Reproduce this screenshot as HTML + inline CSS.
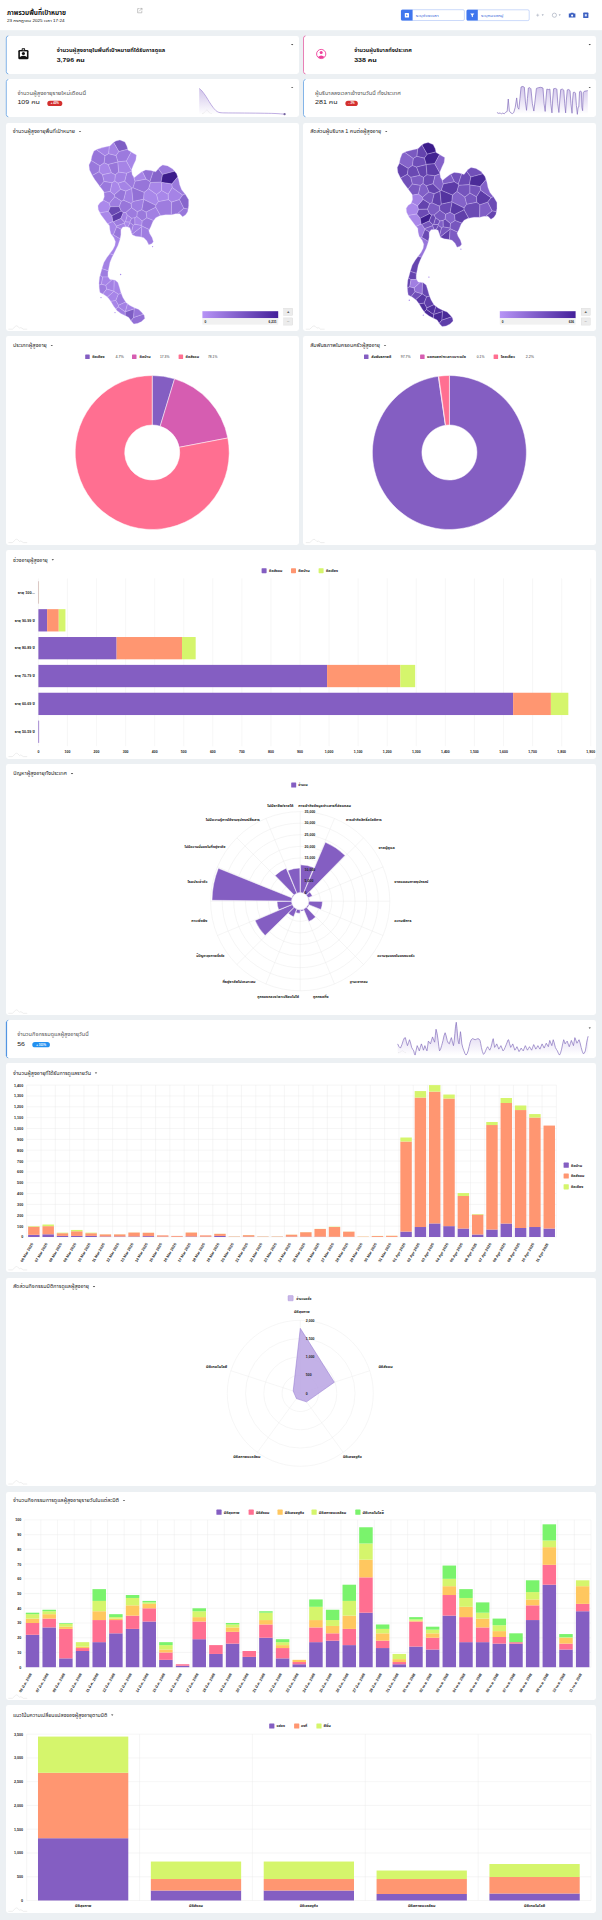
<!DOCTYPE html>
<html lang="th"><head><meta charset="utf-8"><title>ภาพรวมพื้นที่เป้าหมาย</title>
<style>html,body{margin:0;padding:0;}body{width:602px;height:1920px;background:#ecf0f3;position:relative;overflow:hidden;font-family:"Liberation Sans", "Noto Sans Thai", "Loma", sans-serif;}.card{position:absolute;background:#fff;border-radius:2.4px;}svg.ov{position:absolute;left:0;top:0;font-family:"Liberation Sans", "Noto Sans Thai", "Loma", sans-serif;}svg.ov text{white-space:pre;}</style></head><body>
<div class="card" style="left:6px;top:35.6px;width:292.6px;height:38.6px;"></div>
<div class="card" style="left:303.2px;top:35.6px;width:292.6px;height:38.6px;"></div>
<div class="card" style="left:6px;top:79.2px;width:292.6px;height:37.9px;"></div>
<div class="card" style="left:303.2px;top:79.2px;width:292.6px;height:37.9px;"></div>
<div class="card" style="left:6px;top:1020px;width:589.8px;height:38.2px;"></div>
<div class="card" style="left:6px;top:122.7px;width:292.6px;height:208.5px;"></div>
<div class="card" style="left:303.2px;top:122.7px;width:292.6px;height:208.5px;"></div>
<div class="card" style="left:6px;top:335.6px;width:292.6px;height:209px;"></div>
<div class="card" style="left:303.2px;top:335.6px;width:292.6px;height:209px;"></div>
<div class="card" style="left:6px;top:550px;width:589.8px;height:208.6px;"></div>
<div class="card" style="left:6px;top:763.8px;width:589.8px;height:251.5px;"></div>
<div class="card" style="left:6px;top:1063.2px;width:589.8px;height:208.7px;"></div>
<div class="card" style="left:6px;top:1277.6px;width:589.8px;height:208.4px;"></div>
<div class="card" style="left:6px;top:1491.6px;width:589.8px;height:208.7px;"></div>
<div class="card" style="left:6px;top:1705.3px;width:589.8px;height:208px;"></div>
<svg class="ov" width="602" height="1920" viewBox="0 0 602 1920">
<rect x="0" y="0" width="602" height="30.2" fill="#ffffff"/>
<text x="6.9" y="14.5" font-size="6.3" fill="#111" font-weight="bold" textLength="59.1" lengthAdjust="spacingAndGlyphs">ภาพรวมพื้นที่เป้าหมาย</text>
<text x="6.9" y="21.9" font-size="4" fill="#111" textLength="57.6" lengthAdjust="spacingAndGlyphs">23 กรกฎาคม 2025 เวลา 17:24</text>
<g fill="none" stroke="#888" stroke-width="0.45"><path d="M139.6 8.6 h-2 v4.2 h4.2 v-2"/><path d="M139 11.4 l3 -3 m-1.8 0 h1.8 v1.8"/></g>
<rect x="401.2" y="9.7" width="63.2" height="10.8" rx="1.4" fill="#fff" stroke="#7fa2f3" stroke-width="0.4"/>
<path d="M402.4 9.8 h10.2 v10.8 h-10.2 a1.4 1.4 0 0 1 -1.4 -1.4 v-8 a1.4 1.4 0 0 1 1.4 -1.4z" fill="#3f76ee"/>
<rect x="404.8" y="13" width="4.2" height="4.4" rx="0.5" fill="#fff"/><path d="M406.2 14.3 l1.6 1 l-1.6 1z" fill="#3f76ee"/>
<text x="415.8" y="16.7" font-size="3.9" fill="#2d5bd6" textLength="22.8" lengthAdjust="spacingAndGlyphs">ระบุช่วงเวลา</text>
<rect x="466.6" y="9.8" width="62.6" height="10.8" rx="1.4" fill="#fff" stroke="#7fa2f3" stroke-width="0.4"/>
<path d="M468 9.8 h9.8 v10.8 h-9.8 a1.4 1.4 0 0 1 -1.4 -1.4 v-8 a1.4 1.4 0 0 1 1.4 -1.4z" fill="#3f76ee"/>
<path d="M470.2 13.4 h4.2 l-1.5 1.9 v2 l-1.2 -0.7 v-1.3z" fill="#fff"/>
<text x="481" y="16.7" font-size="3.9" fill="#2d5bd6" textLength="22.4" lengthAdjust="spacingAndGlyphs">ระบุหมวดหมู่</text>
<path d="M536.2 15.2 h3 m-1.5 -1.5 v3" stroke="#9aa3b5" stroke-width="0.5" fill="none"/>
<path d="M541.6 14.6 h2.2 l-1.1 1.1 z" fill="#8a93a8"/>
<circle cx="554.4" cy="15.2" r="2.1" fill="none" stroke="#9aa3b5" stroke-width="0.6"/>
<path d="M558.6 14.6 h2.2 l-1.1 1.1 z" fill="#8a93a8"/>
<path d="M568.8 13.6 h1.5 l0.6 -0.8 h2.4 l0.6 0.8 h1.5 v4 h-6.6z" fill="#3b5fc0"/><circle cx="572.1" cy="15.6" r="1.05" fill="#fff"/>
<rect x="583.2" y="12.6" width="5.2" height="5.4" rx="0.6" fill="#3b5fc0"/><rect x="584.8" y="14.2" width="2" height="2.2" fill="#dfe6fa"/>
<defs><linearGradient id="g1" x1="0" y1="0" x2="0" y2="1"><stop offset="0" stop-color="#a48bd6" stop-opacity="0.5"/><stop offset="1" stop-color="#a48bd6" stop-opacity="0.0"/></linearGradient></defs>
<path d="M8.3 35.9 q-1.9 0.2 -2 2.2 V71.7 q0.1 2 2 2.2" fill="none" stroke="#5a9be0" stroke-width="0.75"/>
<path d="M305.5 35.9 q-1.9 0.2 -2 2.2 V71.7 q0.1 2 2 2.2" fill="none" stroke="#e0569d" stroke-width="0.75"/>
<g><rect x="18.3" y="49.9" width="10.2" height="9.4" rx="1.3" fill="#111"/><rect x="21.7" y="48.3" width="3.4" height="3" rx="0.6" fill="#111"/><rect x="19.9" y="51.4" width="7" height="5.6" fill="#fff"/><circle cx="23.4" cy="53.5" r="1.6" fill="#111"/><path d="M19.9 57 q3.5 -2.6 7 0 v0.1 h-7z" fill="#111"/><rect x="22.6" y="49.3" width="1.6" height="0.9" fill="#fff"/></g>
<text x="56.8" y="51.9" font-size="4.9" fill="#111" font-weight="bold" textLength="108.4" lengthAdjust="spacingAndGlyphs">จำนวนผู้สูงอายุในพื้นที่เป้าหมายที่ได้รับการดูแล</text>
<text x="56.8" y="61.6" font-size="6" fill="#111" font-weight="bold" textLength="28" lengthAdjust="spacingAndGlyphs">3,796 คน</text>
<path d="M291 44 h2.3 l-1.15 1.15 z" fill="#333"/>
<circle cx="321.2" cy="54" r="4.6" fill="#fff" stroke="#ee3f9b" stroke-width="0.9"/><circle cx="321.2" cy="52.5" r="1.5" fill="#ee3f9b"/><path d="M317.9 56.9 q3.3 -3 6.6 0 a4.6 4.6 0 0 1 -6.6 0z" fill="#ee3f9b"/>
<text x="354.2" y="51.9" font-size="4.9" fill="#111" font-weight="bold" textLength="57.6" lengthAdjust="spacingAndGlyphs">จำนวนผู้บริบาลทั้งประเทศ</text>
<text x="354.2" y="61.6" font-size="6" fill="#111" font-weight="bold" textLength="22.6" lengthAdjust="spacingAndGlyphs">338 คน</text>
<path d="M588.6 44 h2.3 l-1.15 1.15 z" fill="#333"/>
<path d="M8.3 79.5 q-1.9 0.2 -2 2.2 V114.6 q0.1 2 2 2.2" fill="none" stroke="#5a9be0" stroke-width="0.75"/>
<path d="M305.5 79.5 q-1.9 0.2 -2 2.2 V114.6 q0.1 2 2 2.2" fill="none" stroke="#5a9be0" stroke-width="0.75"/>
<text x="17.4" y="94.8" font-size="4.7" fill="#555" textLength="68.6" lengthAdjust="spacingAndGlyphs">จำนวนผู้สูงอายุรายใหม่เดือนนี้</text>
<text x="17.4" y="104.3" font-size="6" fill="#222" textLength="22.5" lengthAdjust="spacingAndGlyphs">109 คน</text>
<rect x="47.3" y="100.8" width="15" height="5.2" rx="2.6" fill="#d3302f"/><text x="54.8" y="104.4" font-size="2.9" fill="#fff" text-anchor="middle" font-weight="bold">+ 43%</text>
<path d="M291 86.9 h2.3 l-1.15 1.15 z" fill="#333"/>
<path d="M199.2 88.4 L199.67 88.8 L200.35 89.36 L201.15 90.09 L202 91 L202.92 92.15 L203.93 93.51 L204.97 94.99 L206 96.5 L207 98.08 L208 99.74 L209 101.41 L210 103 L211.02 104.53 L212.06 106.03 L213.07 107.42 L214 108.6 L214.82 109.53 L215.56 110.27 L216.27 110.88 L217 111.4 L217.68 111.83 L218.31 112.16 L219.04 112.4 L220 112.6 L221.1 112.74 L222.31 112.82 L223.87 112.86 L226 112.9 L228.8 112.94 L232.12 112.96 L235.89 112.97 L240 113 L244.7 113.04 L249.94 113.09 L255.21 113.14 L260 113.2 L264.23 113.26 L268.15 113.32 L271.75 113.39 L275 113.5 L278 113.66 L280.74 113.87 L283 114.06 L284.6 114.2 L284.6 114.4 L199.2 114.4 Z" fill="url(#g1)"/><path d="M199.2 88.4 L199.67 88.8 L200.35 89.36 L201.15 90.09 L202 91 L202.92 92.15 L203.93 93.51 L204.97 94.99 L206 96.5 L207 98.08 L208 99.74 L209 101.41 L210 103 L211.02 104.53 L212.06 106.03 L213.07 107.42 L214 108.6 L214.82 109.53 L215.56 110.27 L216.27 110.88 L217 111.4 L217.68 111.83 L218.31 112.16 L219.04 112.4 L220 112.6 L221.1 112.74 L222.31 112.82 L223.87 112.86 L226 112.9 L228.8 112.94 L232.12 112.96 L235.89 112.97 L240 113 L244.7 113.04 L249.94 113.09 L255.21 113.14 L260 113.2 L264.23 113.26 L268.15 113.32 L271.75 113.39 L275 113.5 L278 113.66 L280.74 113.87 L283 114.06 L284.6 114.2" fill="none" stroke="#a48bd6" stroke-width="0.7" stroke-linejoin="round"/>
<path d="M202 113.6 q2 0 3.4 -2.4 q1.4 -2.4 2.8 0 q1.4 2.4 3.4 2.4" fill="none" stroke="#c9c9c9" stroke-width="0.35" stroke-dasharray="0.8 0.5"/>
<circle cx="284.6" cy="114.2" r="1.1" fill="#75659f"/>
<text x="315" y="94.8" font-size="4.7" fill="#555" textLength="85.7" lengthAdjust="spacingAndGlyphs">ผู้บริบาลลงเวลาเข้างานวันนี้ ทั้งประเทศ</text>
<text x="315" y="104.3" font-size="6" fill="#222" textLength="22.5" lengthAdjust="spacingAndGlyphs">281 คน</text>
<rect x="345.4" y="100.8" width="12.4" height="5.2" rx="2.6" fill="#d3302f"/><text x="351.6" y="104.4" font-size="2.9" fill="#fff" text-anchor="middle" font-weight="bold">- 2%</text>
<path d="M588.6 86.9 h2.3 l-1.15 1.15 z" fill="#333"/>
<path d="M496.94 112.52 L498.77 113.44 L500.23 112.89 L501.33 113.99 L502.79 113.07 L504.25 113.8 L505.71 112.16 L507.18 111.43 L508.27 99 L509.37 111.06 L510.83 112.89 L512.29 113.62 L513.75 112.52 L515.21 107.41 L516.68 97.91 L517.77 107.41 L518.87 109.23 L519.97 98.27 L521.06 86.94 L522.89 86.4 L524.35 87.31 L525.45 101.93 L526.54 110.33 L527.46 98.27 L528.37 88.04 L529.83 87.67 L530.93 88.77 L532.39 103.75 L533.85 111.06 L535.13 100.1 L536.41 88.4 L538.42 87.67 L540.79 87.31 L542.99 88.04 L544.08 103.75 L545.18 111.43 L545.91 100.1 L546.82 89.14 L548.47 89.5 L549.93 89.14 L550.84 103.75 L551.94 112.89 L552.67 100.1 L553.58 88.77 L555.41 88.4 L556.87 89.14 L557.79 103.75 L558.88 112.52 L559.8 100.1 L560.71 89.5 L562.54 89.14 L563.82 90.23 L564.73 103.75 L565.64 112.89 L566.37 100.1 L567.29 89.87 L568.75 89.5 L570.03 90.6 L570.94 103.75 L572.04 113.25 L572.59 100.1 L573.32 92.42 L574.41 92.06 L575.51 93.16 L576.42 105.58 L577.34 114.35 L578.07 107.41 L578.8 107.04 L579.53 91.69 L580.63 90.96 L581.36 92.06 L581.91 107.41 L582.64 110.7 L583.18 92.79 L584.28 91.33 L586.11 90.96 L587.75 90.6 L587.75 113.6 L496.94 113.6 Z" fill="url(#g1)"/><path d="M496.94 112.52 L498.77 113.44 L500.23 112.89 L501.33 113.99 L502.79 113.07 L504.25 113.8 L505.71 112.16 L507.18 111.43 L508.27 99 L509.37 111.06 L510.83 112.89 L512.29 113.62 L513.75 112.52 L515.21 107.41 L516.68 97.91 L517.77 107.41 L518.87 109.23 L519.97 98.27 L521.06 86.94 L522.89 86.4 L524.35 87.31 L525.45 101.93 L526.54 110.33 L527.46 98.27 L528.37 88.04 L529.83 87.67 L530.93 88.77 L532.39 103.75 L533.85 111.06 L535.13 100.1 L536.41 88.4 L538.42 87.67 L540.79 87.31 L542.99 88.04 L544.08 103.75 L545.18 111.43 L545.91 100.1 L546.82 89.14 L548.47 89.5 L549.93 89.14 L550.84 103.75 L551.94 112.89 L552.67 100.1 L553.58 88.77 L555.41 88.4 L556.87 89.14 L557.79 103.75 L558.88 112.52 L559.8 100.1 L560.71 89.5 L562.54 89.14 L563.82 90.23 L564.73 103.75 L565.64 112.89 L566.37 100.1 L567.29 89.87 L568.75 89.5 L570.03 90.6 L570.94 103.75 L572.04 113.25 L572.59 100.1 L573.32 92.42 L574.41 92.06 L575.51 93.16 L576.42 105.58 L577.34 114.35 L578.07 107.41 L578.8 107.04 L579.53 91.69 L580.63 90.96 L581.36 92.06 L581.91 107.41 L582.64 110.7 L583.18 92.79 L584.28 91.33 L586.11 90.96 L587.75 90.6" fill="none" stroke="#8570bd" stroke-width="0.7" stroke-linejoin="round"/>
<path d="M8.3 1020.3 q-1.9 0.2 -2 2.2 V1055.7 q0.1 2 2 2.2" fill="none" stroke="#5a9be0" stroke-width="0.75"/>
<path d="M6.6 1022 V1056.2" stroke="#4a90e2" stroke-width="1"/>
<text x="17.2" y="1036.2" font-size="4.7" fill="#555" textLength="71.5" lengthAdjust="spacingAndGlyphs">จำนวนกิจกรรมดูแลผู้สูงอายุวันนี้</text>
<text x="17.2" y="1046.2" font-size="6" fill="#222" textLength="7.8" lengthAdjust="spacingAndGlyphs">56</text>
<rect x="32.3" y="1042" width="17.6" height="5.3" rx="2.65" fill="#2391f0"/><text x="41.1" y="1045.65" font-size="2.9" fill="#fff" text-anchor="middle" font-weight="bold">+ 103%</text>
<path d="M588.6 1027.6 h2.3 l-1.15 1.15 z" fill="#333"/>
<path d="M397.67 1043.9 L398.89 1046.48 L400.46 1048.09 L401.9 1044.69 L403.25 1040.42 L404.34 1038.04 L405.35 1037.63 L406.39 1041.83 L407.44 1045.65 L408.49 1042.7 L409.53 1039.72 L410.58 1042.97 L411.63 1047.39 L412.72 1049.35 L413.72 1050.88 L414.42 1053.78 L415.11 1055.07 L416.12 1050.29 L417.21 1045.65 L418.25 1048.11 L419.3 1050.88 L420.35 1047.33 L421.39 1043.9 L422.48 1046.89 L423.48 1050.18 L424.18 1047.98 L424.88 1045.65 L425.93 1048.59 L426.97 1050.88 L427.67 1046.15 L428.37 1041.11 L429.37 1042.33 L430.46 1043.9 L431.51 1040.26 L432.55 1036.93 L433.64 1039.91 L434.65 1042.16 L435.34 1035.34 L436.04 1029.25 L437.09 1033.37 L438.13 1040.42 L438.83 1046.67 L439.53 1050.88 L440.58 1049.24 L441.62 1045.65 L442.32 1043.18 L443.02 1040.42 L444.02 1035.77 L445.11 1032.74 L446.16 1035.88 L447.2 1040.42 L448.25 1043.03 L449.3 1043.9 L450.34 1040.48 L451.39 1037.63 L452.48 1042.01 L453.48 1045.65 L454.22 1040.74 L454.88 1033.44 L455.57 1026.18 L456.27 1022.28 L456.97 1028.47 L457.67 1036.93 L458.36 1042.09 L459.06 1043.9 L459.76 1037.47 L460.46 1031.7 L461.11 1036.6 L461.85 1043.9 L462.85 1047.89 L463.94 1050.88 L464.99 1053.67 L466.04 1055.07 L467.08 1053.78 L468.13 1050.88 L469.18 1046.48 L470.22 1042.16 L471.23 1039.81 L472.32 1038.67 L473.67 1039.04 L475.11 1039.72 L476.55 1039.15 L477.9 1038.67 L479.03 1039.04 L479.99 1040.42 L480.69 1043.58 L481.38 1047.39 L482.39 1051.53 L483.48 1054.37 L484.52 1053.32 L485.57 1050.88 L486.62 1048.35 L487.66 1046.69 L488.71 1048.57 L489.76 1050.18 L490.85 1047.59 L491.85 1043.9 L492.59 1040.35 L493.24 1038.67 L493.9 1042.92 L494.64 1047.39 L495.64 1045.87 L496.73 1043.9 L497.78 1046.52 L498.82 1049.14 L499.87 1047.39 L500.92 1045.65 L501.96 1048.26 L503.01 1050.88 L504.06 1049.79 L505.1 1047.39 L506.19 1044.71 L507.2 1042.16 L507.89 1040.13 L508.59 1039.72 L509.59 1043.62 L510.68 1047.39 L511.73 1045.73 L512.78 1043.9 L513.82 1047.04 L514.87 1050.18 L515.92 1048.53 L516.96 1046.69 L518.01 1049.14 L519.05 1051.58 L520.1 1049.96 L521.15 1048.09 L522.19 1049.59 L523.24 1050.88 L524.29 1048.15 L525.33 1045.65 L526.38 1047.81 L527.43 1050.18 L528.47 1048.5 L529.52 1046.69 L530.57 1048.57 L531.61 1050.18 L532.66 1047.33 L533.7 1044.6 L534.75 1046.74 L535.8 1049.14 L536.84 1047.46 L537.89 1045.65 L538.94 1047.5 L539.98 1049.14 L541.03 1046.48 L542.08 1043.9 L543.12 1045.97 L544.17 1048.09 L545.21 1045.69 L546.26 1043.21 L547.35 1045.04 L548.35 1046.69 L549.05 1043.45 L549.75 1040.42 L550.8 1043.01 L551.84 1045.65 L552.54 1042.53 L553.24 1039.72 L554.24 1042.97 L555.33 1047.39 L556.38 1049.35 L557.42 1050.88 L558.47 1053.56 L559.52 1055.07 L560.56 1052.95 L561.61 1049.14 L562.7 1043.79 L563.7 1039.72 L564.4 1041.4 L565.1 1043.9 L566.1 1042.42 L567.19 1041.11 L568.24 1044.12 L569.28 1046.69 L570.33 1043.58 L571.37 1040.42 L572.46 1043.14 L573.47 1045.65 L574.16 1041.61 L574.86 1037.63 L575.87 1040.13 L576.96 1043.21 L578 1041.33 L579.05 1039.72 L580.09 1042.94 L581.14 1047.39 L582.19 1051.18 L583.23 1053.67 L584.32 1053.21 L585.33 1050.88 L586.07 1046.72 L586.72 1042.16 L587.51 1038.65 L588.12 1036.23 L588.12 1055.2 L397.67 1055.2 Z" fill="url(#g1)"/><path d="M397.67 1043.9 L398.89 1046.48 L400.46 1048.09 L401.9 1044.69 L403.25 1040.42 L404.34 1038.04 L405.35 1037.63 L406.39 1041.83 L407.44 1045.65 L408.49 1042.7 L409.53 1039.72 L410.58 1042.97 L411.63 1047.39 L412.72 1049.35 L413.72 1050.88 L414.42 1053.78 L415.11 1055.07 L416.12 1050.29 L417.21 1045.65 L418.25 1048.11 L419.3 1050.88 L420.35 1047.33 L421.39 1043.9 L422.48 1046.89 L423.48 1050.18 L424.18 1047.98 L424.88 1045.65 L425.93 1048.59 L426.97 1050.88 L427.67 1046.15 L428.37 1041.11 L429.37 1042.33 L430.46 1043.9 L431.51 1040.26 L432.55 1036.93 L433.64 1039.91 L434.65 1042.16 L435.34 1035.34 L436.04 1029.25 L437.09 1033.37 L438.13 1040.42 L438.83 1046.67 L439.53 1050.88 L440.58 1049.24 L441.62 1045.65 L442.32 1043.18 L443.02 1040.42 L444.02 1035.77 L445.11 1032.74 L446.16 1035.88 L447.2 1040.42 L448.25 1043.03 L449.3 1043.9 L450.34 1040.48 L451.39 1037.63 L452.48 1042.01 L453.48 1045.65 L454.22 1040.74 L454.88 1033.44 L455.57 1026.18 L456.27 1022.28 L456.97 1028.47 L457.67 1036.93 L458.36 1042.09 L459.06 1043.9 L459.76 1037.47 L460.46 1031.7 L461.11 1036.6 L461.85 1043.9 L462.85 1047.89 L463.94 1050.88 L464.99 1053.67 L466.04 1055.07 L467.08 1053.78 L468.13 1050.88 L469.18 1046.48 L470.22 1042.16 L471.23 1039.81 L472.32 1038.67 L473.67 1039.04 L475.11 1039.72 L476.55 1039.15 L477.9 1038.67 L479.03 1039.04 L479.99 1040.42 L480.69 1043.58 L481.38 1047.39 L482.39 1051.53 L483.48 1054.37 L484.52 1053.32 L485.57 1050.88 L486.62 1048.35 L487.66 1046.69 L488.71 1048.57 L489.76 1050.18 L490.85 1047.59 L491.85 1043.9 L492.59 1040.35 L493.24 1038.67 L493.9 1042.92 L494.64 1047.39 L495.64 1045.87 L496.73 1043.9 L497.78 1046.52 L498.82 1049.14 L499.87 1047.39 L500.92 1045.65 L501.96 1048.26 L503.01 1050.88 L504.06 1049.79 L505.1 1047.39 L506.19 1044.71 L507.2 1042.16 L507.89 1040.13 L508.59 1039.72 L509.59 1043.62 L510.68 1047.39 L511.73 1045.73 L512.78 1043.9 L513.82 1047.04 L514.87 1050.18 L515.92 1048.53 L516.96 1046.69 L518.01 1049.14 L519.05 1051.58 L520.1 1049.96 L521.15 1048.09 L522.19 1049.59 L523.24 1050.88 L524.29 1048.15 L525.33 1045.65 L526.38 1047.81 L527.43 1050.18 L528.47 1048.5 L529.52 1046.69 L530.57 1048.57 L531.61 1050.18 L532.66 1047.33 L533.7 1044.6 L534.75 1046.74 L535.8 1049.14 L536.84 1047.46 L537.89 1045.65 L538.94 1047.5 L539.98 1049.14 L541.03 1046.48 L542.08 1043.9 L543.12 1045.97 L544.17 1048.09 L545.21 1045.69 L546.26 1043.21 L547.35 1045.04 L548.35 1046.69 L549.05 1043.45 L549.75 1040.42 L550.8 1043.01 L551.84 1045.65 L552.54 1042.53 L553.24 1039.72 L554.24 1042.97 L555.33 1047.39 L556.38 1049.35 L557.42 1050.88 L558.47 1053.56 L559.52 1055.07 L560.56 1052.95 L561.61 1049.14 L562.7 1043.79 L563.7 1039.72 L564.4 1041.4 L565.1 1043.9 L566.1 1042.42 L567.19 1041.11 L568.24 1044.12 L569.28 1046.69 L570.33 1043.58 L571.37 1040.42 L572.46 1043.14 L573.47 1045.65 L574.16 1041.61 L574.86 1037.63 L575.87 1040.13 L576.96 1043.21 L578 1041.33 L579.05 1039.72 L580.09 1042.94 L581.14 1047.39 L582.19 1051.18 L583.23 1053.67 L584.32 1053.21 L585.33 1050.88 L586.07 1046.72 L586.72 1042.16 L587.51 1038.65 L588.12 1036.23" fill="none" stroke="#8570bd" stroke-width="0.7" stroke-linejoin="round"/>
<path d="M398 1052.6 q2 0 3 -1.2 q1.2 -1.2 2.4 0 q1 1.2 3 1.2" fill="none" stroke="#c9c9c9" stroke-width="0.35" stroke-dasharray="0.8 0.5"/>
<text x="12.8" y="133.2" font-size="5" fill="#222" textLength="62.2" lengthAdjust="spacingAndGlyphs">จำนวนผู้สูงอายุพื้นที่เป้าหมาย</text>
<path d="M78.8 130.9 h2.4 l-1.2 1.2 z" fill="#333"/>
<text x="310.2" y="133.2" font-size="5" fill="#222" textLength="71" lengthAdjust="spacingAndGlyphs">สัดส่วนผู้บริบาล 1 คนต่อผู้สูงอายุ</text>
<path d="M385 130.9 h2.4 l-1.2 1.2 z" fill="#333"/>
<defs><linearGradient id="mg" x1="0" y1="0" x2="1" y2="0"><stop offset="0" stop-color="#b794f6"/><stop offset="1" stop-color="#44209a"/></linearGradient></defs>
<g transform="translate(0 0)" stroke="#dccdfb" stroke-width="0.3" stroke-linejoin="round"><polygon points="101.45,284.26 102.71,277.01 100.16,275.3 99.53,277.52 98.94,283.5 99.07,285.15 101.45,284.26" fill="#a07ee1"/><polygon points="99.11,171.76 99.95,165.74 91.07,160.37 90.96,160.91 88.97,164.9 89.57,169.88 91.96,174.86 92.3,175.43 99.11,171.76" fill="#9978dc"/><polygon points="108.51,211.41 110.32,206.78 109.31,203.17 103.2,199.98 102.92,200.78 99.93,202.77 97.94,205.76 98.34,209.75 99.95,212.84 108.51,211.41" fill="#ab89eb"/><polygon points="104.09,181.34 102.54,174.76 99.11,171.76 92.3,175.43 94.95,179.85 97.94,183.83 99.85,186.38 104.09,181.34" fill="#9775d9"/><polygon points="99.85,186.38 100.93,187.82 103.92,191.81 103.98,192.55 110.21,191.48 112.09,182.71 104.09,181.34 99.85,186.38" fill="#9a79dd"/><polygon points="99.95,165.74 104.17,162.83 105.05,155.8 96.43,149.71 93.95,150.95 91.96,155.93 91.07,160.37 99.95,165.74" fill="#9775da"/><polygon points="99.11,171.76 102.54,174.76 111.5,172.79 108.28,164.47 104.17,162.83 99.95,165.74 99.11,171.76" fill="#a886e8"/><polygon points="106.69,289.11 105.88,285.25 101.45,284.26 99.07,285.15 99.33,288.48 99.93,292.46 102.91,293.96 106.69,289.11" fill="#9e7cdf"/><polygon points="106.69,289.11 113.95,291.37 113.95,291.37 114.24,280.03 111.89,279.75 105.88,285.25 106.69,289.11" fill="#a482e4"/><polygon points="99.95,212.84 100.93,214.73 103.92,218.72 106.91,222.7 107.85,223.79 112.88,221.51 111.95,215.77 108.51,211.41 99.95,212.84" fill="#a987e9"/><polygon points="102.71,277.01 108.22,276.99 107.91,276.52 107.91,272.53 108.26,270.74 102.02,268.62 100.93,272.53 100.16,275.3 102.71,277.01" fill="#9e7de0"/><polygon points="108.26,270.74 108.9,267.55 109.9,262.57 111.89,257.58 113.34,254.69 109.83,253.68 106.91,257.58 103.92,262.57 102.32,267.55 102.02,268.62 108.26,270.74" fill="#a382e4"/><polygon points="101.45,284.26 105.88,285.25 111.89,279.75 109.9,279.51 108.22,276.99 102.71,277.01 101.45,284.26" fill="#a684e7"/><polygon points="118.86,151.61 127.68,149.32 126.84,145.96 124.85,141.98 119.86,139.98 115.88,140.98 113.61,142.49 118.86,151.61" fill="#7e5dc4"/><polygon points="105.05,155.8 108.66,153.64 109.41,146.08 103.92,147.36 97.94,148.95 96.43,149.71 105.05,155.8" fill="#a482e5"/><polygon points="110.32,206.78 119.27,206.57 121.43,200.99 114.77,196.65 109.31,203.17 110.32,206.78" fill="#9e7de0"/><polygon points="109.31,203.17 114.77,196.65 114.35,194.67 110.21,191.48 103.98,192.55 104.32,196.79 103.2,199.98 109.31,203.17" fill="#9e7cdf"/><polygon points="113.95,291.37 118.35,294.24 121.29,293.55 120.86,292.46 119.47,287.48 117.87,282.5 114.88,280.11 114.24,280.03 113.95,291.37" fill="#a684e7"/><polygon points="112.09,182.71 114.85,181 115.4,174.71 111.5,172.79 102.54,174.76 104.09,181.34 112.09,182.71" fill="#a382e4"/><polygon points="108.28,164.47 117.85,162.03 117.99,161.8 116.13,155.51 108.66,153.64 105.05,155.8 104.17,162.83 108.28,164.47" fill="#9776da"/><polygon points="113.95,291.37 106.69,289.11 102.91,293.96 103.92,294.46 107.41,297.08 113.95,291.37" fill="#a785e7"/><polygon points="118.37,306.94 118.58,305.28 115.89,300.38 110.76,301.25 110.89,301.43 113.88,306.42 115.91,309.11 118.37,306.94" fill="#a785e7"/><polygon points="113.95,291.37 107.41,297.08 107.91,297.45 110.76,301.25 115.89,300.38 118.35,294.24 113.95,291.37 113.95,291.37" fill="#a785e8"/><polygon points="110.21,191.48 114.35,194.67 120.61,189.3 118.14,183.15 114.85,181 112.09,182.71 110.21,191.48" fill="#a987e9"/><polygon points="113.46,234.76 116.6,226.91 116.36,226.02 113.41,221.81 112.88,221.51 107.85,223.79 109.5,225.69 109.9,229.68 110.89,233.66 111.99,235.13 113.46,234.76" fill="#a684e7"/><polygon points="115.4,174.71 118.72,172.04 117.85,162.03 108.28,164.47 111.5,172.79 115.4,174.71" fill="#9876da"/><polygon points="111.95,215.77 121.23,211.05 119.27,206.57 110.32,206.78 108.51,211.41 111.95,215.77" fill="#6948b2"/><polygon points="113.34,254.69 113.88,253.6 115.88,249.61 117.87,245.62 119.86,239.64 120.05,238.7 113.46,234.76 111.99,235.13 113.88,237.65 115.48,241.64 114.88,245.62 112.89,249.61 109.9,253.6 109.83,253.68 113.34,254.69" fill="#a684e7"/><polygon points="118.86,151.61 113.61,142.49 112.89,142.97 109.9,145.96 109.41,146.08 108.66,153.64 116.13,155.51 118.86,151.61" fill="#a583e5"/><polygon points="116.13,155.51 117.99,161.8 126.41,161.05 131.28,152.01 127.84,149.95 127.68,149.32 118.86,151.61 116.13,155.51" fill="#9c7ade"/><polygon points="118.58,305.28 125.63,302.08 122.85,297.45 121.29,293.55 118.35,294.24 115.89,300.38 118.58,305.28" fill="#9d7cdf"/><polygon points="113.41,221.81 120.93,218.43 123.33,212.46 121.23,211.05 111.95,215.77 112.88,221.51 113.41,221.81" fill="#5c3ba7"/><polygon points="121.23,211.05 123.33,212.46 125.89,212.51 131.53,207.6 131.19,203.49 123.72,200.2 121.43,200.99 119.27,206.57 121.23,211.05" fill="#9876da"/><polygon points="114.85,181 118.14,183.15 124.8,181.16 126.77,173.13 118.72,172.04 115.4,174.71 114.85,181" fill="#a381e4"/><polygon points="114.77,196.65 121.43,200.99 123.72,200.2 125.95,191.09 120.61,189.3 114.35,194.67 114.77,196.65" fill="#9675d9"/><polygon points="141.83,226.44 132.08,234.24 132.22,234.66 135.81,236.26 139.8,236.65 141.14,236.99 141.83,226.44" fill="#9e7de0"/><polygon points="133.25,225.25 130.11,222.56 127.76,226.99 129.83,227.68 130.83,230.67 131.45,232.45 133.25,225.25" fill="#9c7ade"/><polygon points="124.42,223 116.36,226.02 116.6,226.91 121.16,229.3 122.85,227.09 125.66,226.81 124.42,223" fill="#a583e5"/><polygon points="113.46,234.76 120.05,238.7 120.86,234.66 120.86,229.68 121.16,229.3 116.6,226.91 113.46,234.76" fill="#9775d9"/><polygon points="116.36,226.02 124.42,223 124.7,222.2 120.93,218.43 113.41,221.81 116.36,226.02" fill="#9b7add"/><polygon points="125.31,311.85 118.37,306.94 115.91,309.11 116.87,310.4 120.86,313.39 124.85,315.39 125.25,315.59 125.31,311.85" fill="#9e7de0"/><polygon points="125.39,311.77 127.58,303.73 125.84,302.43 125.63,302.08 118.58,305.28 118.37,306.94 125.31,311.85 125.39,311.77" fill="#a381e4"/><polygon points="125.31,311.85 125.25,315.59 128.83,317.38 130.99,320.69 133.64,317.43 134.25,308.87 125.39,311.77 125.31,311.85" fill="#7e5dc4"/><polygon points="124.7,222.2 125.46,221.77 127.35,215.15 125.89,212.51 123.33,212.46 120.93,218.43 124.7,222.2" fill="#a280e3"/><polygon points="125.95,191.09 131.72,188.53 132.02,188.19 124.8,181.16 118.14,183.15 120.61,189.3 125.95,191.09" fill="#a584e6"/><polygon points="117.85,162.03 118.72,172.04 126.77,173.13 131.64,171.24 131.47,170.18 126.41,161.05 117.99,161.8 117.85,162.03" fill="#a684e6"/><polygon points="126.41,161.05 131.47,170.18 131.43,169.88 133.42,164.9 135.81,159.92 136.41,154.93 132.82,152.94 131.28,152.01 126.41,161.05" fill="#a786e8"/><polygon points="125.39,311.77 134.25,308.87 134.83,308.02 134.81,308.01 129.83,305.42 127.58,303.73 125.39,311.77" fill="#a381e4"/><polygon points="127.35,215.15 131.69,218.37 134.87,217.82 136.91,216.41 137.36,211.65 131.53,207.6 125.89,212.51 127.35,215.15" fill="#9d7bdf"/><polygon points="124.42,223 125.66,226.81 126.84,226.69 127.76,226.99 130.11,222.56 129.87,222.01 125.46,221.77 124.7,222.2 124.42,223" fill="#a987e9"/><polygon points="124.8,181.16 132.02,188.19 133.04,187.72 135.07,181.29 133.73,177.12 132.22,174.86 131.64,171.24 126.77,173.13 124.8,181.16" fill="#9c7ade"/><polygon points="125.95,191.09 123.72,200.2 131.19,203.49 133.03,201.56 131.72,188.53 125.95,191.09" fill="#a280e3"/><polygon points="125.46,221.77 129.87,222.01 131.69,218.37 127.35,215.15 125.46,221.77" fill="#a381e4"/><polygon points="130.11,222.56 133.25,225.25 134.97,224.22 134.87,217.82 131.69,218.37 129.87,222.01 130.11,222.56" fill="#9977db"/><polygon points="133.03,201.56 143.61,199.21 144.19,192.37 133.04,187.72 132.02,188.19 131.72,188.53 133.03,201.56" fill="#9270d5"/><polygon points="131.19,203.49 131.53,207.6 137.36,211.65 141.88,209.74 143.78,199.5 143.61,199.21 133.03,201.56 131.19,203.49" fill="#9f7ee1"/><polygon points="131.45,232.45 132.08,234.24 141.83,226.44 142.08,226.11 141.82,225.39 134.97,224.22 133.25,225.25 131.45,232.45" fill="#a381e4"/><polygon points="133.64,317.43 130.99,320.69 131.43,321.37 133.82,323.96 137.8,323.36 141.79,321.37 144.78,318.38 144.18,315.39 143.22,314.19 133.64,317.43" fill="#9270d5"/><polygon points="142.08,226.11 141.83,226.44 141.14,236.99 143.78,237.65 146.77,240.64 148.77,244.63 151.76,243.63 153.35,241.64 152.15,237.65 149.76,233.66 148.77,230.67 149.34,229.52 142.08,226.11" fill="#9f7ee1"/><polygon points="162.52,174.45 174.57,171.24 172.68,168.88 167.7,165.89 162.72,164.9 159.73,166.89 158.3,168.68 162.52,174.45" fill="#9b7add"/><polygon points="146.07,179.2 149.97,181.58 153.42,171.23 150.76,170.48 145.78,169.88 142.35,171.59 146.07,179.2" fill="#9270d5"/><polygon points="135.07,181.29 146.07,179.2 142.35,171.59 141.79,171.87 137.8,174.86 134.22,177.85 133.73,177.12 135.07,181.29" fill="#a886e8"/><polygon points="134.25,308.87 133.64,317.43 143.22,314.19 141.79,312.4 138.8,309.41 134.83,308.02 134.25,308.87" fill="#9674d9"/><polygon points="133.04,187.72 144.19,192.37 148.67,188.8 150.48,182.53 149.97,181.58 146.07,179.2 135.07,181.29 133.04,187.72" fill="#9775d9"/><polygon points="134.97,224.22 141.82,225.39 142.21,220.96 136.91,216.41 134.87,217.82 134.97,224.22" fill="#a886e8"/><polygon points="142.21,220.96 146.9,217.82 146.13,212.04 141.88,209.74 137.36,211.65 136.91,216.41 142.21,220.96" fill="#9a79dc"/><polygon points="183.82,208.24 177.32,213.73 179.66,213.73 182.65,216.72 185.64,214.73 187.63,211.74 188.11,208.9 183.82,208.24" fill="#9877db"/><polygon points="143.78,199.5 155.79,205.28 158.43,201.56 156.59,194.43 148.67,188.8 144.19,192.37 143.61,199.21 143.78,199.5" fill="#a887e9"/><polygon points="142.21,220.96 141.82,225.39 142.08,226.11 149.34,229.52 150.76,226.69 152.75,221.71 153.65,220.51 146.9,217.82 142.21,220.96" fill="#9a78dc"/><polygon points="141.88,209.74 146.13,212.04 155.84,207.26 155.79,205.28 143.78,199.5 141.88,209.74" fill="#9270d5"/><polygon points="146.13,212.04 146.9,217.82 153.65,220.51 155.74,217.72 159.73,215.73 160.52,215.59 155.84,207.26 146.13,212.04" fill="#a280e3"/><polygon points="160.52,215.59 165.71,214.73 171.35,214.73 171.58,202.06 168.41,199.62 158.43,201.56 155.79,205.28 155.84,207.26 160.52,215.59" fill="#9e7cdf"/><polygon points="158.43,201.56 168.41,199.62 168.24,194.14 161.61,190.44 156.59,194.43 158.43,201.56" fill="#a887e9"/><polygon points="156.59,194.43 161.61,190.44 161.65,182.39 161.13,181.95 150.48,182.53 148.67,188.8 156.59,194.43" fill="#a886e8"/><polygon points="150.48,182.53 161.13,181.95 162.52,174.45 158.3,168.68 155.74,171.87 153.42,171.23 149.97,181.58 150.48,182.53" fill="#8564ca"/><polygon points="161.65,182.39 171.87,183.98 177.69,176.91 176.67,173.87 174.57,171.24 162.52,174.45 161.13,181.95 161.65,182.39" fill="#3c1c8b"/><polygon points="168.24,194.14 172.3,187.57 171.87,183.98 161.65,182.39 161.61,190.44 168.24,194.14" fill="#a583e6"/><polygon points="171.35,214.73 171.69,214.73 175.67,213.73 177.32,213.73 183.82,208.24 179.46,199.46 171.58,202.06 171.35,214.73" fill="#9675d9"/><polygon points="168.24,194.14 168.41,199.62 171.58,202.06 179.46,199.46 182.73,195.04 172.3,187.57 168.24,194.14" fill="#a583e6"/><polygon points="171.87,183.98 172.3,187.57 182.73,195.04 185.04,194.05 181.65,189.81 179.66,184.83 178.66,179.85 177.69,176.91 171.87,183.98" fill="#9a79dc"/><polygon points="182.73,195.04 179.46,199.46 183.82,208.24 188.11,208.9 188.63,205.76 188.63,199.78 185.64,194.8 185.04,194.05 182.73,195.04" fill="#8766cc"/><circle cx="120.6" cy="274.5" r="0.7" fill="#a98cec" stroke="none"/><circle cx="152.6" cy="246.6" r="0.6" fill="#a98cec" stroke="none"/><circle cx="101" cy="297.6" r="0.7" fill="#a98cec" stroke="none"/><circle cx="115" cy="312.6" r="0.6" fill="#a98cec" stroke="none"/></g>
<g transform="translate(308.3 2.6)" stroke="#dccdfb" stroke-width="0.3" stroke-linejoin="round"><polygon points="101.45,284.26 102.71,277.01 100.16,275.3 99.53,277.52 98.94,283.5 99.07,285.15 101.45,284.26" fill="#6444ae"/><polygon points="99.11,171.76 99.95,165.74 91.07,160.37 90.96,160.91 88.97,164.9 89.57,169.88 91.96,174.86 92.3,175.43 99.11,171.76" fill="#6342ad"/><polygon points="108.51,211.41 110.32,206.78 109.31,203.17 103.2,199.98 102.92,200.78 99.93,202.77 97.94,205.76 98.34,209.75 99.95,212.84 108.51,211.41" fill="#ab89eb"/><polygon points="104.09,181.34 102.54,174.76 99.11,171.76 92.3,175.43 94.95,179.85 97.94,183.83 99.85,186.38 104.09,181.34" fill="#7150b9"/><polygon points="99.85,186.38 100.93,187.82 103.92,191.81 103.98,192.55 110.21,191.48 112.09,182.71 104.09,181.34 99.85,186.38" fill="#7a59c1"/><polygon points="99.95,165.74 104.17,162.83 105.05,155.8 96.43,149.71 93.95,150.95 91.96,155.93 91.07,160.37 99.95,165.74" fill="#8564ca"/><polygon points="99.11,171.76 102.54,174.76 111.5,172.79 108.28,164.47 104.17,162.83 99.95,165.74 99.11,171.76" fill="#6a49b3"/><polygon points="106.69,289.11 105.88,285.25 101.45,284.26 99.07,285.15 99.33,288.48 99.93,292.46 102.91,293.96 106.69,289.11" fill="#7251b9"/><polygon points="106.69,289.11 113.95,291.37 113.95,291.37 114.24,280.03 111.89,279.75 105.88,285.25 106.69,289.11" fill="#9270d5"/><polygon points="99.95,212.84 100.93,214.73 103.92,218.72 106.91,222.7 107.85,223.79 112.88,221.51 111.95,215.77 108.51,211.41 99.95,212.84" fill="#a987e9"/><polygon points="102.71,277.01 108.22,276.99 107.91,276.52 107.91,272.53 108.26,270.74 102.02,268.62 100.93,272.53 100.16,275.3 102.71,277.01" fill="#6645af"/><polygon points="108.26,270.74 108.9,267.55 109.9,262.57 111.89,257.58 113.34,254.69 109.83,253.68 106.91,257.58 103.92,262.57 102.32,267.55 102.02,268.62 108.26,270.74" fill="#6645af"/><polygon points="101.45,284.26 105.88,285.25 111.89,279.75 109.9,279.51 108.22,276.99 102.71,277.01 101.45,284.26" fill="#a17fe2"/><polygon points="118.86,151.61 127.68,149.32 126.84,145.96 124.85,141.98 119.86,139.98 115.88,140.98 113.61,142.49 118.86,151.61" fill="#3b1b8a"/><polygon points="105.05,155.8 108.66,153.64 109.41,146.08 103.92,147.36 97.94,148.95 96.43,149.71 105.05,155.8" fill="#7a59c0"/><polygon points="110.32,206.78 119.27,206.57 121.43,200.99 114.77,196.65 109.31,203.17 110.32,206.78" fill="#6443ae"/><polygon points="109.31,203.17 114.77,196.65 114.35,194.67 110.21,191.48 103.98,192.55 104.32,196.79 103.2,199.98 109.31,203.17" fill="#a381e4"/><polygon points="113.95,291.37 118.35,294.24 121.29,293.55 120.86,292.46 119.47,287.48 117.87,282.5 114.88,280.11 114.24,280.03 113.95,291.37" fill="#6747b1"/><polygon points="112.09,182.71 114.85,181 115.4,174.71 111.5,172.79 102.54,174.76 104.09,181.34 112.09,182.71" fill="#7d5cc3"/><polygon points="108.28,164.47 117.85,162.03 117.99,161.8 116.13,155.51 108.66,153.64 105.05,155.8 104.17,162.83 108.28,164.47" fill="#6e4db7"/><polygon points="113.95,291.37 106.69,289.11 102.91,293.96 103.92,294.46 107.41,297.08 113.95,291.37" fill="#704fb8"/><polygon points="118.37,306.94 118.58,305.28 115.89,300.38 110.76,301.25 110.89,301.43 113.88,306.42 115.91,309.11 118.37,306.94" fill="#4f2f9c"/><polygon points="113.95,291.37 107.41,297.08 107.91,297.45 110.76,301.25 115.89,300.38 118.35,294.24 113.95,291.37 113.95,291.37" fill="#5838a4"/><polygon points="110.21,191.48 114.35,194.67 120.61,189.3 118.14,183.15 114.85,181 112.09,182.71 110.21,191.48" fill="#8160c7"/><polygon points="113.46,234.76 116.6,226.91 116.36,226.02 113.41,221.81 112.88,221.51 107.85,223.79 109.5,225.69 109.9,229.68 110.89,233.66 111.99,235.13 113.46,234.76" fill="#9e7de0"/><polygon points="115.4,174.71 118.72,172.04 117.85,162.03 108.28,164.47 111.5,172.79 115.4,174.71" fill="#6443ae"/><polygon points="111.95,215.77 121.23,211.05 119.27,206.57 110.32,206.78 108.51,211.41 111.95,215.77" fill="#6b4ab4"/><polygon points="113.34,254.69 113.88,253.6 115.88,249.61 117.87,245.62 119.86,239.64 120.05,238.7 113.46,234.76 111.99,235.13 113.88,237.65 115.48,241.64 114.88,245.62 112.89,249.61 109.9,253.6 109.83,253.68 113.34,254.69" fill="#9876da"/><polygon points="118.86,151.61 113.61,142.49 112.89,142.97 109.9,145.96 109.41,146.08 108.66,153.64 116.13,155.51 118.86,151.61" fill="#6443ae"/><polygon points="116.13,155.51 117.99,161.8 126.41,161.05 131.28,152.01 127.84,149.95 127.68,149.32 118.86,151.61 116.13,155.51" fill="#422291"/><polygon points="118.58,305.28 125.63,302.08 122.85,297.45 121.29,293.55 118.35,294.24 115.89,300.38 118.58,305.28" fill="#5f3ea9"/><polygon points="113.41,221.81 120.93,218.43 123.33,212.46 121.23,211.05 111.95,215.77 112.88,221.51 113.41,221.81" fill="#3e1e8e"/><polygon points="121.23,211.05 123.33,212.46 125.89,212.51 131.53,207.6 131.19,203.49 123.72,200.2 121.43,200.99 119.27,206.57 121.23,211.05" fill="#7d5cc3"/><polygon points="114.85,181 118.14,183.15 124.8,181.16 126.77,173.13 118.72,172.04 115.4,174.71 114.85,181" fill="#6b4ab4"/><polygon points="114.77,196.65 121.43,200.99 123.72,200.2 125.95,191.09 120.61,189.3 114.35,194.67 114.77,196.65" fill="#7958c0"/><polygon points="141.83,226.44 132.08,234.24 132.22,234.66 135.81,236.26 139.8,236.65 141.14,236.99 141.83,226.44" fill="#5e3da9"/><polygon points="133.25,225.25 130.11,222.56 127.76,226.99 129.83,227.68 130.83,230.67 131.45,232.45 133.25,225.25" fill="#6d4cb5"/><polygon points="124.42,223 116.36,226.02 116.6,226.91 121.16,229.3 122.85,227.09 125.66,226.81 124.42,223" fill="#7d5cc3"/><polygon points="113.46,234.76 120.05,238.7 120.86,234.66 120.86,229.68 121.16,229.3 116.6,226.91 113.46,234.76" fill="#6a49b3"/><polygon points="116.36,226.02 124.42,223 124.7,222.2 120.93,218.43 113.41,221.81 116.36,226.02" fill="#7655bd"/><polygon points="125.31,311.85 118.37,306.94 115.91,309.11 116.87,310.4 120.86,313.39 124.85,315.39 125.25,315.59 125.31,311.85" fill="#4a2997"/><polygon points="125.39,311.77 127.58,303.73 125.84,302.43 125.63,302.08 118.58,305.28 118.37,306.94 125.31,311.85 125.39,311.77" fill="#50309d"/><polygon points="125.31,311.85 125.25,315.59 128.83,317.38 130.99,320.69 133.64,317.43 134.25,308.87 125.39,311.77 125.31,311.85" fill="#472795"/><polygon points="124.7,222.2 125.46,221.77 127.35,215.15 125.89,212.51 123.33,212.46 120.93,218.43 124.7,222.2" fill="#6847b1"/><polygon points="125.95,191.09 131.72,188.53 132.02,188.19 124.8,181.16 118.14,183.15 120.61,189.3 125.95,191.09" fill="#6443ae"/><polygon points="117.85,162.03 118.72,172.04 126.77,173.13 131.64,171.24 131.47,170.18 126.41,161.05 117.99,161.8 117.85,162.03" fill="#5d3ca8"/><polygon points="126.41,161.05 131.47,170.18 131.43,169.88 133.42,164.9 135.81,159.92 136.41,154.93 132.82,152.94 131.28,152.01 126.41,161.05" fill="#8462c9"/><polygon points="125.39,311.77 134.25,308.87 134.83,308.02 134.81,308.01 129.83,305.42 127.58,303.73 125.39,311.77" fill="#52319e"/><polygon points="127.35,215.15 131.69,218.37 134.87,217.82 136.91,216.41 137.36,211.65 131.53,207.6 125.89,212.51 127.35,215.15" fill="#7857bf"/><polygon points="124.42,223 125.66,226.81 126.84,226.69 127.76,226.99 130.11,222.56 129.87,222.01 125.46,221.77 124.7,222.2 124.42,223" fill="#6d4cb5"/><polygon points="124.8,181.16 132.02,188.19 133.04,187.72 135.07,181.29 133.73,177.12 132.22,174.86 131.64,171.24 126.77,173.13 124.8,181.16" fill="#8160c7"/><polygon points="125.95,191.09 123.72,200.2 131.19,203.49 133.03,201.56 131.72,188.53 125.95,191.09" fill="#6140ab"/><polygon points="125.46,221.77 129.87,222.01 131.69,218.37 127.35,215.15 125.46,221.77" fill="#6f4eb8"/><polygon points="130.11,222.56 133.25,225.25 134.97,224.22 134.87,217.82 131.69,218.37 129.87,222.01 130.11,222.56" fill="#805fc6"/><polygon points="133.03,201.56 143.61,199.21 144.19,192.37 133.04,187.72 132.02,188.19 131.72,188.53 133.03,201.56" fill="#5434a0"/><polygon points="131.19,203.49 131.53,207.6 137.36,211.65 141.88,209.74 143.78,199.5 143.61,199.21 133.03,201.56 131.19,203.49" fill="#6a49b3"/><polygon points="131.45,232.45 132.08,234.24 141.83,226.44 142.08,226.11 141.82,225.39 134.97,224.22 133.25,225.25 131.45,232.45" fill="#7857bf"/><polygon points="133.64,317.43 130.99,320.69 131.43,321.37 133.82,323.96 137.8,323.36 141.79,321.37 144.78,318.38 144.18,315.39 143.22,314.19 133.64,317.43" fill="#5e3ea9"/><polygon points="142.08,226.11 141.83,226.44 141.14,236.99 143.78,237.65 146.77,240.64 148.77,244.63 151.76,243.63 153.35,241.64 152.15,237.65 149.76,233.66 148.77,230.67 149.34,229.52 142.08,226.11" fill="#7d5cc3"/><polygon points="162.52,174.45 174.57,171.24 172.68,168.88 167.7,165.89 162.72,164.9 159.73,166.89 158.3,168.68 162.52,174.45" fill="#7150b9"/><polygon points="146.07,179.2 149.97,181.58 153.42,171.23 150.76,170.48 145.78,169.88 142.35,171.59 146.07,179.2" fill="#7251ba"/><polygon points="135.07,181.29 146.07,179.2 142.35,171.59 141.79,171.87 137.8,174.86 134.22,177.85 133.73,177.12 135.07,181.29" fill="#7f5ec5"/><polygon points="134.25,308.87 133.64,317.43 143.22,314.19 141.79,312.4 138.8,309.41 134.83,308.02 134.25,308.87" fill="#4b2b98"/><polygon points="133.04,187.72 144.19,192.37 148.67,188.8 150.48,182.53 149.97,181.58 146.07,179.2 135.07,181.29 133.04,187.72" fill="#5c3ba7"/><polygon points="134.97,224.22 141.82,225.39 142.21,220.96 136.91,216.41 134.87,217.82 134.97,224.22" fill="#6847b1"/><polygon points="142.21,220.96 146.9,217.82 146.13,212.04 141.88,209.74 137.36,211.65 136.91,216.41 142.21,220.96" fill="#8463ca"/><polygon points="183.82,208.24 177.32,213.73 179.66,213.73 182.65,216.72 185.64,214.73 187.63,211.74 188.11,208.9 183.82,208.24" fill="#6544af"/><polygon points="143.78,199.5 155.79,205.28 158.43,201.56 156.59,194.43 148.67,188.8 144.19,192.37 143.61,199.21 143.78,199.5" fill="#8463c9"/><polygon points="142.21,220.96 141.82,225.39 142.08,226.11 149.34,229.52 150.76,226.69 152.75,221.71 153.65,220.51 146.9,217.82 142.21,220.96" fill="#7756be"/><polygon points="141.88,209.74 146.13,212.04 155.84,207.26 155.79,205.28 143.78,199.5 141.88,209.74" fill="#5939a5"/><polygon points="146.13,212.04 146.9,217.82 153.65,220.51 155.74,217.72 159.73,215.73 160.52,215.59 155.84,207.26 146.13,212.04" fill="#603faa"/><polygon points="160.52,215.59 165.71,214.73 171.35,214.73 171.58,202.06 168.41,199.62 158.43,201.56 155.79,205.28 155.84,207.26 160.52,215.59" fill="#6b4bb4"/><polygon points="158.43,201.56 168.41,199.62 168.24,194.14 161.61,190.44 156.59,194.43 158.43,201.56" fill="#7857bf"/><polygon points="156.59,194.43 161.61,190.44 161.65,182.39 161.13,181.95 150.48,182.53 148.67,188.8 156.59,194.43" fill="#7554bd"/><polygon points="150.48,182.53 161.13,181.95 162.52,174.45 158.3,168.68 155.74,171.87 153.42,171.23 149.97,181.58 150.48,182.53" fill="#6b4ab4"/><polygon points="161.65,182.39 171.87,183.98 177.69,176.91 176.67,173.87 174.57,171.24 162.52,174.45 161.13,181.95 161.65,182.39" fill="#4b2b98"/><polygon points="168.24,194.14 172.3,187.57 171.87,183.98 161.65,182.39 161.61,190.44 168.24,194.14" fill="#7554bc"/><polygon points="171.35,214.73 171.69,214.73 175.67,213.73 177.32,213.73 183.82,208.24 179.46,199.46 171.58,202.06 171.35,214.73" fill="#805ec6"/><polygon points="168.24,194.14 168.41,199.62 171.58,202.06 179.46,199.46 182.73,195.04 172.3,187.57 168.24,194.14" fill="#5c3ba7"/><polygon points="171.87,183.98 172.3,187.57 182.73,195.04 185.04,194.05 181.65,189.81 179.66,184.83 178.66,179.85 177.69,176.91 171.87,183.98" fill="#8361c8"/><polygon points="182.73,195.04 179.46,199.46 183.82,208.24 188.11,208.9 188.63,205.76 188.63,199.78 185.64,194.8 185.04,194.05 182.73,195.04" fill="#6b4ab4"/><circle cx="120.6" cy="274.5" r="0.7" fill="#a98cec" stroke="none"/><circle cx="152.6" cy="246.6" r="0.6" fill="#a98cec" stroke="none"/><circle cx="101" cy="297.6" r="0.7" fill="#a98cec" stroke="none"/><circle cx="115" cy="312.6" r="0.6" fill="#a98cec" stroke="none"/></g>
<rect x="202.4" y="311.2" width="75.8" height="7" fill="url(#mg)"/>
<rect x="202.4" y="318.2" width="75.8" height="6.4" fill="#f1f1f1"/>
<text x="204.4" y="322.8" font-size="3.2" fill="#222" font-weight="bold">0</text>
<text x="276.6" y="322.8" font-size="3.2" fill="#222" text-anchor="end" font-weight="bold">6,231</text>
<rect x="283.8" y="308.2" width="9" height="7.2" fill="#ececec" stroke="#dadada" stroke-width="0.4"/>
<text x="288.3" y="313.1" font-size="4.2" fill="#333" text-anchor="middle" font-weight="bold">+</text>
<rect x="283.8" y="317.9" width="9" height="7.2" fill="#ececec" stroke="#dadada" stroke-width="0.4"/>
<text x="288.3" y="322.8" font-size="4.2" fill="#aaa" text-anchor="middle" font-weight="bold">−</text>
<path d="M8.4 329.2 h4 l3.2 -3 q1 -0.8 2 0 l2 2 q1 -1.2 2.4 0 l1.2 1 h4" fill="none" stroke="#dcdcdc" stroke-width="0.5"/>
<rect x="499.8" y="311.2" width="75.8" height="7" fill="url(#mg)"/>
<rect x="499.8" y="318.2" width="75.8" height="6.4" fill="#f1f1f1"/>
<text x="501.8" y="322.8" font-size="3.2" fill="#222" font-weight="bold">0</text>
<text x="574" y="322.8" font-size="3.2" fill="#222" text-anchor="end" font-weight="bold">636</text>
<rect x="581.2" y="308.2" width="9" height="7.2" fill="#ececec" stroke="#dadada" stroke-width="0.4"/>
<text x="585.7" y="313.1" font-size="4.2" fill="#333" text-anchor="middle" font-weight="bold">+</text>
<rect x="581.2" y="317.9" width="9" height="7.2" fill="#ececec" stroke="#dadada" stroke-width="0.4"/>
<text x="585.7" y="322.8" font-size="4.2" fill="#aaa" text-anchor="middle" font-weight="bold">−</text>
<path d="M305.8 329.2 h4 l3.2 -3 q1 -0.8 2 0 l2 2 q1 -1.2 2.4 0 l1.2 1 h4" fill="none" stroke="#dcdcdc" stroke-width="0.5"/>
<text x="13" y="347.2" font-size="5" fill="#222" textLength="33.8" lengthAdjust="spacingAndGlyphs">ประเภทผู้สูงอายุ</text>
<path d="M50.6 344.9 h2.4 l-1.2 1.2 z" fill="#333"/>
<text x="310.2" y="347.2" font-size="5" fill="#222" textLength="69.8" lengthAdjust="spacingAndGlyphs">สัมพันธภาพในครอบครัวผู้สูงอายุ</text>
<path d="M383.8 344.9 h2.4 l-1.2 1.2 z" fill="#333"/>
<path d="M152.2 375.5 A77 77 0 0 1 174.59 378.83 L160.2 426.19 A27.5 27.5 0 0 0 152.2 425 Z" fill="#845ec2" stroke="#fff" stroke-width="0.5" stroke-linejoin="round"/><path d="M174.59 378.83 A77 77 0 0 1 227.82 437.97 L179.21 447.31 A27.5 27.5 0 0 0 160.2 426.19 Z" fill="#d65db1" stroke="#fff" stroke-width="0.5" stroke-linejoin="round"/><path d="M227.82 437.97 A77 77 0 1 1 152.2 375.5 L152.2 425 A27.5 27.5 0 1 0 179.21 447.31 Z" fill="#ff6f91" stroke="#fff" stroke-width="0.5" stroke-linejoin="round"/>
<path d="M449.4 375.5 A77 77 0 1 1 438.31 376.3 L445.44 425.29 A27.5 27.5 0 1 0 449.4 425 Z" fill="#845ec2" stroke="#fff" stroke-width="0.5" stroke-linejoin="round"/><path d="M438.31 376.3 A77 77 0 0 1 438.79 376.23 L445.61 425.26 A27.5 27.5 0 0 0 445.44 425.29 Z" fill="#d65db1" stroke="#fff" stroke-width="0.5" stroke-linejoin="round"/><path d="M438.79 376.23 A77 77 0 0 1 449.4 375.5 L449.4 425 A27.5 27.5 0 0 0 445.61 425.26 Z" fill="#ff6f91" stroke="#fff" stroke-width="0.5" stroke-linejoin="round"/>
<rect x="85.2" y="354.5" width="4.5" height="4.6" rx="0.6" fill="#845ec2"/>
<text x="92.2" y="358" font-size="3.4" fill="#222" font-weight="bold" textLength="12.5" lengthAdjust="spacingAndGlyphs">ติดเตียง</text>
<text x="115.4" y="358" font-size="3.3" fill="#333" textLength="8.4" lengthAdjust="spacingAndGlyphs">4.7%</text>
<rect x="132" y="354.5" width="4.5" height="4.6" rx="0.6" fill="#d65db1"/>
<text x="139.5" y="358" font-size="3.4" fill="#222" font-weight="bold" textLength="11" lengthAdjust="spacingAndGlyphs">ติดบ้าน</text>
<text x="160" y="358" font-size="3.3" fill="#333" textLength="9.4" lengthAdjust="spacingAndGlyphs">17.3%</text>
<rect x="178.6" y="354.5" width="4.5" height="4.6" rx="0.6" fill="#ff6f91"/>
<text x="185.6" y="358" font-size="3.4" fill="#222" font-weight="bold" textLength="13.4" lengthAdjust="spacingAndGlyphs">ติดสังคม</text>
<text x="208" y="358" font-size="3.3" fill="#333" textLength="9.3" lengthAdjust="spacingAndGlyphs">78.1%</text>
<rect x="364" y="354.5" width="4.5" height="4.6" rx="0.6" fill="#845ec2"/>
<text x="371.3" y="358" font-size="3.4" fill="#222" font-weight="bold" textLength="19.9" lengthAdjust="spacingAndGlyphs">สัมพันธภาพดี</text>
<text x="400.7" y="358" font-size="3.3" fill="#333" textLength="9.9" lengthAdjust="spacingAndGlyphs">97.7%</text>
<rect x="420.1" y="354.5" width="4.5" height="4.6" rx="0.6" fill="#d65db1"/>
<text x="427" y="358" font-size="3.4" fill="#222" font-weight="bold" textLength="39" lengthAdjust="spacingAndGlyphs">แตกแยก/ทะเลาะเบาะแว้ง</text>
<text x="476.8" y="358" font-size="3.3" fill="#333" textLength="7.6" lengthAdjust="spacingAndGlyphs">0.1%</text>
<rect x="493.6" y="354.5" width="4.5" height="4.6" rx="0.6" fill="#ff6f91"/>
<text x="500.7" y="358" font-size="3.4" fill="#222" font-weight="bold" textLength="14.3" lengthAdjust="spacingAndGlyphs">โดดเดี่ยว</text>
<text x="525.7" y="358" font-size="3.3" fill="#333" textLength="8.1" lengthAdjust="spacingAndGlyphs">2.2%</text>
<path d="M8.4 542.6 h4 l3.2 -3 q1 -0.8 2 0 l2 2 q1 -1.2 2.4 0 l1.2 1 h4" fill="none" stroke="#dcdcdc" stroke-width="0.5"/>
<path d="M305.8 542.6 h4 l3.2 -3 q1 -0.8 2 0 l2 2 q1 -1.2 2.4 0 l1.2 1 h4" fill="none" stroke="#dcdcdc" stroke-width="0.5"/>
<text x="13" y="561.6" font-size="5" fill="#222" textLength="34.8" lengthAdjust="spacingAndGlyphs">ช่วงอายุผู้สูงอายุ</text>
<path d="M51.6 559.3 h2.4 l-1.2 1.2 z" fill="#333"/>
<rect x="261.6" y="568.2" width="5" height="5" rx="0.6" fill="#845ec2"/>
<text x="269.1" y="572" font-size="3.4" fill="#222" font-weight="bold" textLength="13.3" lengthAdjust="spacingAndGlyphs">ติดสังคม</text>
<rect x="291" y="568.2" width="5" height="5" rx="0.6" fill="#ff9671"/>
<text x="298.2" y="572" font-size="3.4" fill="#222" font-weight="bold" textLength="11.6" lengthAdjust="spacingAndGlyphs">ติดบ้าน</text>
<rect x="318.6" y="568.2" width="5" height="5" rx="0.6" fill="#d5f56c"/>
<text x="325.9" y="572" font-size="3.4" fill="#222" font-weight="bold" textLength="12.1" lengthAdjust="spacingAndGlyphs">ติดเตียง</text>
<path d="M38.4 578.4 V746.2" stroke="#ebebeb" stroke-width="0.4"/><text x="38.4" y="752.7" font-size="3.5" fill="#222" text-anchor="middle" font-weight="bold">0</text><path d="M67.47 578.4 V746.2" stroke="#ebebeb" stroke-width="0.4"/><text x="67.47" y="752.7" font-size="3.5" fill="#222" text-anchor="middle" font-weight="bold">100</text><path d="M96.54 578.4 V746.2" stroke="#ebebeb" stroke-width="0.4"/><text x="96.54" y="752.7" font-size="3.5" fill="#222" text-anchor="middle" font-weight="bold">200</text><path d="M125.61 578.4 V746.2" stroke="#ebebeb" stroke-width="0.4"/><text x="125.61" y="752.7" font-size="3.5" fill="#222" text-anchor="middle" font-weight="bold">300</text><path d="M154.68 578.4 V746.2" stroke="#ebebeb" stroke-width="0.4"/><text x="154.68" y="752.7" font-size="3.5" fill="#222" text-anchor="middle" font-weight="bold">400</text><path d="M183.75 578.4 V746.2" stroke="#ebebeb" stroke-width="0.4"/><text x="183.75" y="752.7" font-size="3.5" fill="#222" text-anchor="middle" font-weight="bold">500</text><path d="M212.82 578.4 V746.2" stroke="#ebebeb" stroke-width="0.4"/><text x="212.82" y="752.7" font-size="3.5" fill="#222" text-anchor="middle" font-weight="bold">600</text><path d="M241.89 578.4 V746.2" stroke="#ebebeb" stroke-width="0.4"/><text x="241.89" y="752.7" font-size="3.5" fill="#222" text-anchor="middle" font-weight="bold">700</text><path d="M270.96 578.4 V746.2" stroke="#ebebeb" stroke-width="0.4"/><text x="270.96" y="752.7" font-size="3.5" fill="#222" text-anchor="middle" font-weight="bold">800</text><path d="M300.03 578.4 V746.2" stroke="#ebebeb" stroke-width="0.4"/><text x="300.03" y="752.7" font-size="3.5" fill="#222" text-anchor="middle" font-weight="bold">900</text><path d="M329.1 578.4 V746.2" stroke="#ebebeb" stroke-width="0.4"/><text x="329.1" y="752.7" font-size="3.5" fill="#222" text-anchor="middle" font-weight="bold">1,000</text><path d="M358.17 578.4 V746.2" stroke="#ebebeb" stroke-width="0.4"/><text x="358.17" y="752.7" font-size="3.5" fill="#222" text-anchor="middle" font-weight="bold">1,100</text><path d="M387.24 578.4 V746.2" stroke="#ebebeb" stroke-width="0.4"/><text x="387.24" y="752.7" font-size="3.5" fill="#222" text-anchor="middle" font-weight="bold">1,200</text><path d="M416.31 578.4 V746.2" stroke="#ebebeb" stroke-width="0.4"/><text x="416.31" y="752.7" font-size="3.5" fill="#222" text-anchor="middle" font-weight="bold">1,300</text><path d="M445.38 578.4 V746.2" stroke="#ebebeb" stroke-width="0.4"/><text x="445.38" y="752.7" font-size="3.5" fill="#222" text-anchor="middle" font-weight="bold">1,400</text><path d="M474.45 578.4 V746.2" stroke="#ebebeb" stroke-width="0.4"/><text x="474.45" y="752.7" font-size="3.5" fill="#222" text-anchor="middle" font-weight="bold">1,500</text><path d="M503.52 578.4 V746.2" stroke="#ebebeb" stroke-width="0.4"/><text x="503.52" y="752.7" font-size="3.5" fill="#222" text-anchor="middle" font-weight="bold">1,600</text><path d="M532.59 578.4 V746.2" stroke="#ebebeb" stroke-width="0.4"/><text x="532.59" y="752.7" font-size="3.5" fill="#222" text-anchor="middle" font-weight="bold">1,700</text><path d="M561.66 578.4 V746.2" stroke="#ebebeb" stroke-width="0.4"/><text x="561.66" y="752.7" font-size="3.5" fill="#222" text-anchor="middle" font-weight="bold">1,800</text><path d="M590.73 578.4 V746.2" stroke="#ebebeb" stroke-width="0.4"/><text x="590.73" y="752.7" font-size="3.5" fill="#222" text-anchor="middle" font-weight="bold">1,900</text>
<rect x="38.4" y="581.3" width="0.29" height="22.3" fill="#845ec2"/>
<rect x="38.69" y="581.3" width="0.17" height="22.3" fill="#ff9671"/>
<rect x="38.87" y="581.3" width="0.17" height="22.3" fill="#d5f56c"/>
<text x="34.8" y="593.7" font-size="3.4" fill="#222" text-anchor="end" font-weight="bold" textLength="17" lengthAdjust="spacingAndGlyphs">อายุ 100...</text>
<rect x="38.4" y="609.16" width="8.72" height="22.3" fill="#845ec2"/>
<rect x="47.12" y="609.16" width="11.63" height="22.3" fill="#ff9671"/>
<rect x="58.75" y="609.16" width="6.69" height="22.3" fill="#d5f56c"/>
<text x="34.8" y="621.56" font-size="3.4" fill="#222" text-anchor="end" font-weight="bold" textLength="20" lengthAdjust="spacingAndGlyphs">อายุ 90-99 ปี</text>
<rect x="38.4" y="637.02" width="78.2" height="22.3" fill="#845ec2"/>
<rect x="116.6" y="637.02" width="65.41" height="22.3" fill="#ff9671"/>
<rect x="182.01" y="637.02" width="13.66" height="22.3" fill="#d5f56c"/>
<text x="34.8" y="649.42" font-size="3.4" fill="#222" text-anchor="end" font-weight="bold" textLength="20" lengthAdjust="spacingAndGlyphs">อายุ 80-89 ปี</text>
<rect x="38.4" y="664.88" width="288.67" height="22.3" fill="#845ec2"/>
<rect x="327.07" y="664.88" width="73.26" height="22.3" fill="#ff9671"/>
<rect x="400.32" y="664.88" width="14.83" height="22.3" fill="#d5f56c"/>
<text x="34.8" y="677.28" font-size="3.4" fill="#222" text-anchor="end" font-weight="bold" textLength="20" lengthAdjust="spacingAndGlyphs">อายุ 70-79 ปี</text>
<rect x="38.4" y="692.74" width="474.71" height="22.3" fill="#845ec2"/>
<rect x="513.11" y="692.74" width="37.79" height="22.3" fill="#ff9671"/>
<rect x="550.9" y="692.74" width="17.44" height="22.3" fill="#d5f56c"/>
<text x="34.8" y="705.14" font-size="3.4" fill="#222" text-anchor="end" font-weight="bold" textLength="20" lengthAdjust="spacingAndGlyphs">อายุ 60-69 ปี</text>
<rect x="38.4" y="720.6" width="0.7" height="22.3" fill="#845ec2"/>
<text x="34.8" y="733" font-size="3.4" fill="#222" text-anchor="end" font-weight="bold" textLength="20" lengthAdjust="spacingAndGlyphs">อายุ 50-59 ปี</text>
<path d="M8.4 756.6 h4 l3.2 -3 q1 -0.8 2 0 l2 2 q1 -1.2 2.4 0 l1.2 1 h4" fill="none" stroke="#dcdcdc" stroke-width="0.5"/>
<text x="13.2" y="775.4" font-size="5" fill="#222" textLength="53.8" lengthAdjust="spacingAndGlyphs">ปัญหาผู้สูงอายุทั้งประเทศ</text>
<path d="M70.8 773.1 h2.4 l-1.2 1.2 z" fill="#333"/>
<rect x="291.2" y="782.5" width="5" height="5" rx="0.6" fill="#845ec2"/>
<text x="298.3" y="786.3" font-size="3.4" fill="#222" font-weight="bold" textLength="9.4" lengthAdjust="spacingAndGlyphs">จำนวน</text>
<g fill="none" stroke="#e6e6e6" stroke-width="0.4"><circle cx="300.2" cy="901.2" r="8.6"/><circle cx="300.2" cy="901.2" r="20.17"/><circle cx="300.2" cy="901.2" r="31.74"/><circle cx="300.2" cy="901.2" r="43.31"/><circle cx="300.2" cy="901.2" r="54.88"/><circle cx="300.2" cy="901.2" r="66.45"/><circle cx="300.2" cy="901.2" r="78.02"/><circle cx="300.2" cy="901.2" r="89.59"/><path d="M300.2 892.6 L300.2 811.61"/><path d="M303.49 893.25 L334.48 818.43"/><path d="M306.28 895.12 L363.55 837.85"/><path d="M308.15 897.91 L382.97 866.92"/><path d="M308.8 901.2 L389.79 901.2"/><path d="M308.15 904.49 L382.97 935.48"/><path d="M306.28 907.28 L363.55 964.55"/><path d="M303.49 909.15 L334.48 983.97"/><path d="M300.2 909.8 L300.2 990.79"/><path d="M296.91 909.15 L265.92 983.97"/><path d="M294.12 907.28 L236.85 964.55"/><path d="M292.25 904.49 L217.43 935.48"/><path d="M291.6 901.2 L210.61 901.2"/><path d="M292.25 897.91 L217.43 866.92"/><path d="M294.12 895.12 L236.85 837.85"/><path d="M296.91 893.25 L265.92 818.43"/></g>
<path d="M300.58 864.83 A36.37 36.37 0 0 1 313.76 867.46 L303.41 893.22 A8.6 8.6 0 0 0 300.29 892.6 Z" fill="#845ec2" stroke="#fff" stroke-width="0.45"/>
<path d="M325.36 842.21 A64.14 64.14 0 0 1 345.07 855.38 L306.22 895.06 A8.6 8.6 0 0 0 303.57 893.29 Z" fill="#845ec2" stroke="#fff" stroke-width="0.45"/>
<path d="M309.65 891.94 A13.23 13.23 0 0 1 312.37 896.01 L308.11 897.83 A8.6 8.6 0 0 0 306.34 895.18 Z" fill="#845ec2" stroke="#fff" stroke-width="0.45"/>
<path d="M308.82 897.73 A9.29 9.29 0 0 1 309.49 901.1 L308.8 901.11 A8.6 8.6 0 0 0 308.18 897.99 Z" fill="#845ec2" stroke="#fff" stroke-width="0.45"/>
<path d="M322.45 901.43 A22.25 22.25 0 0 1 320.85 909.5 L308.18 904.41 A8.6 8.6 0 0 0 308.8 901.29 Z" fill="#845ec2" stroke="#fff" stroke-width="0.45"/>
<path d="M309.17 905.03 A9.76 9.76 0 0 1 307.17 908.03 L306.34 907.22 A8.6 8.6 0 0 0 308.11 904.57 Z" fill="#845ec2" stroke="#fff" stroke-width="0.45"/>
<path d="M315.61 916.93 A22.02 22.02 0 0 1 308.84 921.46 L303.57 909.11 A8.6 8.6 0 0 0 306.22 907.34 Z" fill="#845ec2" stroke="#fff" stroke-width="0.45"/>
<path d="M303.93 910.47 A9.99 9.99 0 0 1 300.3 911.19 L300.29 909.8 A8.6 8.6 0 0 0 303.41 909.18 Z" fill="#845ec2" stroke="#fff" stroke-width="0.45"/>
<path d="M300.07 913.27 A12.07 12.07 0 0 1 295.7 912.4 L296.99 909.18 A8.6 8.6 0 0 0 300.11 909.8 Z" fill="#845ec2" stroke="#fff" stroke-width="0.45"/>
<path d="M293.56 916.77 A16.93 16.93 0 0 1 288.35 913.3 L294.18 907.34 A8.6 8.6 0 0 0 296.83 909.11 Z" fill="#845ec2" stroke="#fff" stroke-width="0.45"/>
<path d="M265.12 935.55 A49.1 49.1 0 0 1 255.04 920.46 L292.29 904.57 A8.6 8.6 0 0 0 294.06 907.22 Z" fill="#845ec2" stroke="#fff" stroke-width="0.45"/>
<path d="M278.69 909.85 A23.18 23.18 0 0 1 277.02 901.44 L291.6 901.29 A8.6 8.6 0 0 0 292.22 904.41 Z" fill="#845ec2" stroke="#fff" stroke-width="0.45"/>
<path d="M212 900.28 A88.2 88.2 0 0 1 218.36 868.3 L292.22 897.99 A8.6 8.6 0 0 0 291.6 901.11 Z" fill="#845ec2" stroke="#fff" stroke-width="0.45"/>
<path d="M291.65 897.55 A9.29 9.29 0 0 1 293.56 894.7 L294.06 895.18 A8.6 8.6 0 0 0 292.29 897.83 Z" fill="#845ec2" stroke="#fff" stroke-width="0.45"/>
<path d="M275.08 875.55 A35.91 35.91 0 0 1 286.11 868.17 L296.83 893.29 A8.6 8.6 0 0 0 294.18 895.06 Z" fill="#845ec2" stroke="#fff" stroke-width="0.45"/>
<path d="M287.84 870.46 A33.13 33.13 0 0 1 299.85 868.07 L300.11 892.6 A8.6 8.6 0 0 0 296.99 893.22 Z" fill="#845ec2" stroke="#fff" stroke-width="0.45"/>
<text x="304.6" y="893.85" font-size="3.5" fill="#222" font-weight="bold">0</text>
<text x="304.6" y="882.28" font-size="3.5" fill="#222" font-weight="bold">5,000</text>
<text x="304.6" y="870.71" font-size="3.5" fill="#222" font-weight="bold">10,000</text>
<text x="304.6" y="859.14" font-size="3.5" fill="#222" font-weight="bold">15,000</text>
<text x="304.6" y="847.57" font-size="3.5" fill="#222" font-weight="bold">20,000</text>
<text x="304.6" y="836" font-size="3.5" fill="#222" font-weight="bold">25,000</text>
<text x="304.6" y="824.43" font-size="3.5" fill="#222" font-weight="bold">30,000</text>
<text x="304.6" y="812.86" font-size="3.5" fill="#222" font-weight="bold">35,000</text>
<text x="298.2" y="806.9" font-size="3.4" fill="#222" font-weight="bold" textLength="52.8" lengthAdjust="spacingAndGlyphs">การเข้าถึงข้อมูลข่าวสารที่ล่อแหลม</text>
<text x="346" y="821.1" font-size="3.4" fill="#222" font-weight="bold" textLength="35.7" lengthAdjust="spacingAndGlyphs">การเข้าถึงสิทธิ์สวัสดิการ</text>
<text x="378.5" y="848.5" font-size="3.4" fill="#222" font-weight="bold" textLength="16.2" lengthAdjust="spacingAndGlyphs">ขาดผู้ดูแล</text>
<text x="394.2" y="883.4" font-size="3.4" fill="#222" font-weight="bold" textLength="34.1" lengthAdjust="spacingAndGlyphs">ขาดแคลนกายอุปกรณ์</text>
<text x="394.2" y="921.6" font-size="3.4" fill="#222" font-weight="bold" textLength="17.2" lengthAdjust="spacingAndGlyphs">ความพิการ</text>
<text x="377.2" y="956.5" font-size="3.4" fill="#222" font-weight="bold" textLength="37.4" lengthAdjust="spacingAndGlyphs">ความรุนแรงในครอบครัว</text>
<text x="349.8" y="983.4" font-size="3.4" fill="#222" font-weight="bold" textLength="17.9" lengthAdjust="spacingAndGlyphs">ฐานะยากจน</text>
<text x="313" y="997.9" font-size="3.4" fill="#222" font-weight="bold" textLength="15.6" lengthAdjust="spacingAndGlyphs">ถูกทอดทิ้ง</text>
<text x="257.2" y="997.9" font-size="3.4" fill="#222" font-weight="bold" textLength="41.9" lengthAdjust="spacingAndGlyphs">ถูกหลอกลวง/เอาเปรียบไม่ได้</text>
<text x="222.4" y="983.4" font-size="3.4" fill="#222" font-weight="bold" textLength="33.1" lengthAdjust="spacingAndGlyphs">ที่อยู่อาศัยไม่เหมาะสม</text>
<text x="196.2" y="956.5" font-size="3.4" fill="#222" font-weight="bold" textLength="28.2" lengthAdjust="spacingAndGlyphs">มีปัญหาสุขภาพเรื้อรัง</text>
<text x="191.2" y="921.6" font-size="3.4" fill="#222" font-weight="bold" textLength="16.2" lengthAdjust="spacingAndGlyphs">ภาวะพึ่งพิง</text>
<text x="187.5" y="883.4" font-size="3.4" fill="#222" font-weight="bold" textLength="19.9" lengthAdjust="spacingAndGlyphs">โรคประจำตัว</text>
<text x="184.5" y="848" font-size="3.4" fill="#222" font-weight="bold" textLength="40.9" lengthAdjust="spacingAndGlyphs">ไม่มีความมั่นคงในที่อยู่อาศัย</text>
<text x="205.7" y="821.1" font-size="3.4" fill="#222" font-weight="bold" textLength="54" lengthAdjust="spacingAndGlyphs">ไม่มีความรู้การใช้งานอุปกรณ์สื่อสาร</text>
<text x="267.2" y="806.9" font-size="3.4" fill="#222" font-weight="bold" textLength="26.2" lengthAdjust="spacingAndGlyphs">ไม่มีอาชีพ/รายได้</text>
<path d="M8.4 1013.3 h4 l3.2 -3 q1 -0.8 2 0 l2 2 q1 -1.2 2.4 0 l1.2 1 h4" fill="none" stroke="#dcdcdc" stroke-width="0.5"/>
<text x="13" y="1074.8" font-size="5" fill="#222" textLength="78" lengthAdjust="spacingAndGlyphs">จำนวนผู้สูงอายุที่ได้รับการดูแลรายวัน</text>
<path d="M94.8 1072.5 h2.4 l-1.2 1.2 z" fill="#333"/>
<g stroke="#e9e9e9" stroke-width="0.4" fill="none"><path d="M26.7 1237 H556.4"/><path d="M26.7 1226.15 H556.4"/><path d="M26.7 1215.3 H556.4"/><path d="M26.7 1204.45 H556.4"/><path d="M26.7 1193.6 H556.4"/><path d="M26.7 1182.75 H556.4"/><path d="M26.7 1171.9 H556.4"/><path d="M26.7 1161.05 H556.4"/><path d="M26.7 1150.2 H556.4"/><path d="M26.7 1139.35 H556.4"/><path d="M26.7 1128.5 H556.4"/><path d="M26.7 1117.65 H556.4"/><path d="M26.7 1106.8 H556.4"/><path d="M26.7 1095.95 H556.4"/><path d="M26.7 1085.1 H556.4"/><path d="M26.7 1085.1 V1237"/><path d="M41.02 1085.1 V1237"/><path d="M55.33 1085.1 V1237"/><path d="M69.65 1085.1 V1237"/><path d="M83.96 1085.1 V1237"/><path d="M98.28 1085.1 V1237"/><path d="M112.6 1085.1 V1237"/><path d="M126.91 1085.1 V1237"/><path d="M141.23 1085.1 V1237"/><path d="M155.55 1085.1 V1237"/><path d="M169.86 1085.1 V1237"/><path d="M184.18 1085.1 V1237"/><path d="M198.49 1085.1 V1237"/><path d="M212.81 1085.1 V1237"/><path d="M227.13 1085.1 V1237"/><path d="M241.44 1085.1 V1237"/><path d="M255.76 1085.1 V1237"/><path d="M270.08 1085.1 V1237"/><path d="M284.39 1085.1 V1237"/><path d="M298.71 1085.1 V1237"/><path d="M313.02 1085.1 V1237"/><path d="M327.34 1085.1 V1237"/><path d="M341.66 1085.1 V1237"/><path d="M355.97 1085.1 V1237"/><path d="M370.29 1085.1 V1237"/><path d="M384.61 1085.1 V1237"/><path d="M398.92 1085.1 V1237"/><path d="M413.24 1085.1 V1237"/><path d="M427.55 1085.1 V1237"/><path d="M441.87 1085.1 V1237"/><path d="M456.19 1085.1 V1237"/><path d="M470.5 1085.1 V1237"/><path d="M484.82 1085.1 V1237"/><path d="M499.14 1085.1 V1237"/><path d="M513.45 1085.1 V1237"/><path d="M527.77 1085.1 V1237"/><path d="M542.08 1085.1 V1237"/><path d="M556.4 1085.1 V1237"/></g>
<text x="23.2" y="1238.45" font-size="3.65" fill="#222" text-anchor="end" font-weight="bold">0</text>
<text x="23.2" y="1227.6" font-size="3.65" fill="#222" text-anchor="end" font-weight="bold">100</text>
<text x="23.2" y="1216.75" font-size="3.65" fill="#222" text-anchor="end" font-weight="bold">200</text>
<text x="23.2" y="1205.9" font-size="3.65" fill="#222" text-anchor="end" font-weight="bold">300</text>
<text x="23.2" y="1195.05" font-size="3.65" fill="#222" text-anchor="end" font-weight="bold">400</text>
<text x="23.2" y="1184.2" font-size="3.65" fill="#222" text-anchor="end" font-weight="bold">500</text>
<text x="23.2" y="1173.35" font-size="3.65" fill="#222" text-anchor="end" font-weight="bold">600</text>
<text x="23.2" y="1162.5" font-size="3.65" fill="#222" text-anchor="end" font-weight="bold">700</text>
<text x="23.2" y="1151.65" font-size="3.65" fill="#222" text-anchor="end" font-weight="bold">800</text>
<text x="23.2" y="1140.8" font-size="3.65" fill="#222" text-anchor="end" font-weight="bold">900</text>
<text x="23.2" y="1129.95" font-size="3.65" fill="#222" text-anchor="end" font-weight="bold">1,000</text>
<text x="23.2" y="1119.1" font-size="3.65" fill="#222" text-anchor="end" font-weight="bold">1,100</text>
<text x="23.2" y="1108.25" font-size="3.65" fill="#222" text-anchor="end" font-weight="bold">1,200</text>
<text x="23.2" y="1097.4" font-size="3.65" fill="#222" text-anchor="end" font-weight="bold">1,300</text>
<text x="23.2" y="1086.55" font-size="3.65" fill="#222" text-anchor="end" font-weight="bold">1,400</text>
<rect x="28.13" y="1234.83" width="11.45" height="2.17" fill="#845ec2"/>
<rect x="28.13" y="1226.69" width="11.45" height="8.14" fill="#ff9671"/>
<rect x="28.13" y="1226.15" width="11.45" height="0.54" fill="#d5f56c"/>
<text x="33.36" y="1244" font-size="3.7" fill="#222" text-anchor="end" font-weight="bold" transform="rotate(-59.5 33.36 1244)" textLength="21.6" lengthAdjust="spacingAndGlyphs">06 Mar 2025</text>
<rect x="42.45" y="1234.29" width="11.45" height="2.71" fill="#845ec2"/>
<rect x="42.45" y="1226.15" width="11.45" height="8.14" fill="#ff9671"/>
<rect x="42.45" y="1224.52" width="11.45" height="1.63" fill="#d5f56c"/>
<text x="47.67" y="1244" font-size="3.7" fill="#222" text-anchor="end" font-weight="bold" transform="rotate(-59.5 47.67 1244)" textLength="21.6" lengthAdjust="spacingAndGlyphs">07 Mar 2025</text>
<rect x="56.76" y="1235.91" width="11.45" height="1.08" fill="#845ec2"/>
<rect x="56.76" y="1233.2" width="11.45" height="2.71" fill="#ff9671"/>
<rect x="56.76" y="1232.66" width="11.45" height="0.54" fill="#d5f56c"/>
<text x="61.99" y="1244" font-size="3.7" fill="#222" text-anchor="end" font-weight="bold" transform="rotate(-59.5 61.99 1244)" textLength="21.6" lengthAdjust="spacingAndGlyphs">08 Mar 2025</text>
<rect x="71.08" y="1235.91" width="11.45" height="1.08" fill="#845ec2"/>
<rect x="71.08" y="1231.25" width="11.45" height="4.67" fill="#ff9671"/>
<rect x="71.08" y="1229.95" width="11.45" height="1.3" fill="#d5f56c"/>
<text x="76.31" y="1244" font-size="3.7" fill="#222" text-anchor="end" font-weight="bold" transform="rotate(-59.5 76.31 1244)" textLength="21.6" lengthAdjust="spacingAndGlyphs">09 Mar 2025</text>
<rect x="85.4" y="1235.91" width="11.45" height="1.08" fill="#845ec2"/>
<rect x="85.4" y="1233.2" width="11.45" height="2.71" fill="#ff9671"/>
<rect x="85.4" y="1232.66" width="11.45" height="0.54" fill="#d5f56c"/>
<text x="90.62" y="1244" font-size="3.7" fill="#222" text-anchor="end" font-weight="bold" transform="rotate(-59.5 90.62 1244)" textLength="21.6" lengthAdjust="spacingAndGlyphs">10 Mar 2025</text>
<rect x="99.71" y="1236.46" width="11.45" height="0.54" fill="#845ec2"/>
<rect x="99.71" y="1234.4" width="11.45" height="2.06" fill="#ff9671"/>
<rect x="99.71" y="1234.29" width="11.45" height="0.11" fill="#d5f56c"/>
<text x="104.94" y="1244" font-size="3.7" fill="#222" text-anchor="end" font-weight="bold" transform="rotate(-59.5 104.94 1244)" textLength="21.6" lengthAdjust="spacingAndGlyphs">11 Mar 2025</text>
<rect x="114.03" y="1236.46" width="11.45" height="0.54" fill="#845ec2"/>
<rect x="114.03" y="1234.4" width="11.45" height="2.06" fill="#ff9671"/>
<rect x="114.03" y="1234.29" width="11.45" height="0.11" fill="#d5f56c"/>
<text x="119.26" y="1244" font-size="3.7" fill="#222" text-anchor="end" font-weight="bold" transform="rotate(-59.5 119.26 1244)" textLength="21.6" lengthAdjust="spacingAndGlyphs">12 Mar 2025</text>
<rect x="128.35" y="1236.46" width="11.45" height="0.54" fill="#845ec2"/>
<rect x="128.35" y="1232.55" width="11.45" height="3.91" fill="#ff9671"/>
<rect x="128.35" y="1232.44" width="11.45" height="0.11" fill="#d5f56c"/>
<text x="133.57" y="1244" font-size="3.7" fill="#222" text-anchor="end" font-weight="bold" transform="rotate(-59.5 133.57 1244)" textLength="21.6" lengthAdjust="spacingAndGlyphs">13 Mar 2025</text>
<rect x="142.66" y="1236.13" width="11.45" height="0.87" fill="#845ec2"/>
<rect x="142.66" y="1232.77" width="11.45" height="3.36" fill="#ff9671"/>
<rect x="142.66" y="1232.66" width="11.45" height="0.11" fill="#d5f56c"/>
<text x="147.89" y="1244" font-size="3.7" fill="#222" text-anchor="end" font-weight="bold" transform="rotate(-59.5 147.89 1244)" textLength="21.6" lengthAdjust="spacingAndGlyphs">14 Mar 2025</text>
<rect x="156.98" y="1236.67" width="11.45" height="0.33" fill="#845ec2"/>
<rect x="156.98" y="1235.37" width="11.45" height="1.3" fill="#ff9671"/>
<text x="162.2" y="1244" font-size="3.7" fill="#222" text-anchor="end" font-weight="bold" transform="rotate(-59.5 162.2 1244)" textLength="21.6" lengthAdjust="spacingAndGlyphs">15 Mar 2025</text>
<rect x="171.29" y="1236.78" width="11.45" height="0.22" fill="#845ec2"/>
<rect x="171.29" y="1235.91" width="11.45" height="0.87" fill="#ff9671"/>
<text x="176.52" y="1244" font-size="3.7" fill="#222" text-anchor="end" font-weight="bold" transform="rotate(-59.5 176.52 1244)" textLength="21.6" lengthAdjust="spacingAndGlyphs">16 Mar 2025</text>
<rect x="185.61" y="1236.46" width="11.45" height="0.54" fill="#845ec2"/>
<rect x="185.61" y="1232.55" width="11.45" height="3.91" fill="#ff9671"/>
<rect x="185.61" y="1232.44" width="11.45" height="0.11" fill="#d5f56c"/>
<text x="190.84" y="1244" font-size="3.7" fill="#222" text-anchor="end" font-weight="bold" transform="rotate(-59.5 190.84 1244)" textLength="21.6" lengthAdjust="spacingAndGlyphs">17 Mar 2025</text>
<rect x="199.93" y="1236.67" width="11.45" height="0.33" fill="#845ec2"/>
<rect x="199.93" y="1235.37" width="11.45" height="1.3" fill="#ff9671"/>
<text x="205.15" y="1244" font-size="3.7" fill="#222" text-anchor="end" font-weight="bold" transform="rotate(-59.5 205.15 1244)" textLength="21.6" lengthAdjust="spacingAndGlyphs">18 Mar 2025</text>
<rect x="214.24" y="1235.91" width="11.45" height="1.08" fill="#845ec2"/>
<rect x="214.24" y="1233.85" width="11.45" height="2.06" fill="#ff9671"/>
<rect x="214.24" y="1233.74" width="11.45" height="0.11" fill="#d5f56c"/>
<text x="219.47" y="1244" font-size="3.7" fill="#222" text-anchor="end" font-weight="bold" transform="rotate(-59.5 219.47 1244)" textLength="21.6" lengthAdjust="spacingAndGlyphs">19 Mar 2025</text>
<rect x="228.56" y="1236.89" width="11.45" height="0.11" fill="#845ec2"/>
<rect x="228.56" y="1236.57" width="11.45" height="0.33" fill="#ff9671"/>
<rect x="228.56" y="1236.46" width="11.45" height="0.11" fill="#d5f56c"/>
<text x="233.79" y="1244" font-size="3.7" fill="#222" text-anchor="end" font-weight="bold" transform="rotate(-59.5 233.79 1244)" textLength="21.6" lengthAdjust="spacingAndGlyphs">20 Mar 2025</text>
<rect x="242.87" y="1236.67" width="11.45" height="0.33" fill="#845ec2"/>
<rect x="242.87" y="1235.16" width="11.45" height="1.52" fill="#ff9671"/>
<rect x="242.87" y="1235.05" width="11.45" height="0.11" fill="#d5f56c"/>
<text x="248.1" y="1244" font-size="3.7" fill="#222" text-anchor="end" font-weight="bold" transform="rotate(-59.5 248.1 1244)" textLength="21.6" lengthAdjust="spacingAndGlyphs">21 Mar 2025</text>
<rect x="257.19" y="1236.89" width="11.45" height="0.11" fill="#845ec2"/>
<rect x="257.19" y="1236.57" width="11.45" height="0.33" fill="#ff9671"/>
<rect x="257.19" y="1236.46" width="11.45" height="0.11" fill="#d5f56c"/>
<text x="262.42" y="1244" font-size="3.7" fill="#222" text-anchor="end" font-weight="bold" transform="rotate(-59.5 262.42 1244)" textLength="21.6" lengthAdjust="spacingAndGlyphs">22 Mar 2025</text>
<rect x="271.51" y="1236.89" width="11.45" height="0.11" fill="#845ec2"/>
<rect x="271.51" y="1236.57" width="11.45" height="0.33" fill="#ff9671"/>
<rect x="271.51" y="1236.46" width="11.45" height="0.11" fill="#d5f56c"/>
<text x="276.73" y="1244" font-size="3.7" fill="#222" text-anchor="end" font-weight="bold" transform="rotate(-59.5 276.73 1244)" textLength="21.6" lengthAdjust="spacingAndGlyphs">23 Mar 2025</text>
<rect x="285.82" y="1236.67" width="11.45" height="0.33" fill="#845ec2"/>
<rect x="285.82" y="1234.72" width="11.45" height="1.95" fill="#ff9671"/>
<rect x="285.82" y="1234.61" width="11.45" height="0.11" fill="#d5f56c"/>
<text x="291.05" y="1244" font-size="3.7" fill="#222" text-anchor="end" font-weight="bold" transform="rotate(-59.5 291.05 1244)" textLength="21.6" lengthAdjust="spacingAndGlyphs">24 Mar 2025</text>
<rect x="300.14" y="1236.67" width="11.45" height="0.33" fill="#845ec2"/>
<rect x="300.14" y="1232.23" width="11.45" height="4.45" fill="#ff9671"/>
<rect x="300.14" y="1232.12" width="11.45" height="0.11" fill="#d5f56c"/>
<text x="305.37" y="1244" font-size="3.7" fill="#222" text-anchor="end" font-weight="bold" transform="rotate(-59.5 305.37 1244)" textLength="21.6" lengthAdjust="spacingAndGlyphs">25 Mar 2025</text>
<rect x="314.46" y="1236.67" width="11.45" height="0.33" fill="#845ec2"/>
<rect x="314.46" y="1228.97" width="11.45" height="7.7" fill="#ff9671"/>
<rect x="314.46" y="1228.86" width="11.45" height="0.11" fill="#d5f56c"/>
<text x="319.68" y="1244" font-size="3.7" fill="#222" text-anchor="end" font-weight="bold" transform="rotate(-59.5 319.68 1244)" textLength="21.6" lengthAdjust="spacingAndGlyphs">26 Mar 2025</text>
<rect x="328.77" y="1236.78" width="11.45" height="0.22" fill="#845ec2"/>
<rect x="328.77" y="1227.02" width="11.45" height="9.77" fill="#ff9671"/>
<rect x="328.77" y="1226.69" width="11.45" height="0.33" fill="#d5f56c"/>
<text x="334" y="1244" font-size="3.7" fill="#222" text-anchor="end" font-weight="bold" transform="rotate(-59.5 334 1244)" textLength="21.6" lengthAdjust="spacingAndGlyphs">27 Mar 2025</text>
<rect x="343.09" y="1236.78" width="11.45" height="0.22" fill="#845ec2"/>
<rect x="343.09" y="1231.68" width="11.45" height="5.1" fill="#ff9671"/>
<rect x="343.09" y="1231.58" width="11.45" height="0.11" fill="#d5f56c"/>
<text x="348.31" y="1244" font-size="3.7" fill="#222" text-anchor="end" font-weight="bold" transform="rotate(-59.5 348.31 1244)" textLength="21.6" lengthAdjust="spacingAndGlyphs">28 Mar 2025</text>
<rect x="357.4" y="1236.67" width="11.45" height="0.33" fill="#ff9671"/>
<rect x="357.4" y="1236.57" width="11.45" height="0.11" fill="#d5f56c"/>
<text x="362.63" y="1244" font-size="3.7" fill="#222" text-anchor="end" font-weight="bold" transform="rotate(-59.5 362.63 1244)" textLength="21.6" lengthAdjust="spacingAndGlyphs">29 Mar 2025</text>
<rect x="371.72" y="1236.89" width="11.45" height="0.11" fill="#845ec2"/>
<rect x="371.72" y="1236.02" width="11.45" height="0.87" fill="#ff9671"/>
<rect x="371.72" y="1235.91" width="11.45" height="0.11" fill="#d5f56c"/>
<text x="376.95" y="1244" font-size="3.7" fill="#222" text-anchor="end" font-weight="bold" transform="rotate(-59.5 376.95 1244)" textLength="21.6" lengthAdjust="spacingAndGlyphs">30 Mar 2025</text>
<rect x="386.04" y="1236.89" width="11.45" height="0.11" fill="#845ec2"/>
<rect x="386.04" y="1235.81" width="11.45" height="1.08" fill="#ff9671"/>
<rect x="386.04" y="1235.7" width="11.45" height="0.11" fill="#d5f56c"/>
<text x="391.26" y="1244" font-size="3.7" fill="#222" text-anchor="end" font-weight="bold" transform="rotate(-59.5 391.26 1244)" textLength="21.6" lengthAdjust="spacingAndGlyphs">31 Mar 2025</text>
<rect x="400.35" y="1231.58" width="11.45" height="5.42" fill="#845ec2"/>
<rect x="400.35" y="1141.52" width="11.45" height="90.05" fill="#ff9671"/>
<rect x="400.35" y="1137.51" width="11.45" height="4.01" fill="#d5f56c"/>
<text x="405.58" y="1244" font-size="3.7" fill="#222" text-anchor="end" font-weight="bold" transform="rotate(-59.5 405.58 1244)" textLength="21.6" lengthAdjust="spacingAndGlyphs">01 Apr 2025</text>
<rect x="414.67" y="1227.02" width="11.45" height="9.98" fill="#845ec2"/>
<rect x="414.67" y="1097.58" width="11.45" height="129.44" fill="#ff9671"/>
<rect x="414.67" y="1091.07" width="11.45" height="6.51" fill="#d5f56c"/>
<text x="419.9" y="1244" font-size="3.7" fill="#222" text-anchor="end" font-weight="bold" transform="rotate(-59.5 419.9 1244)" textLength="21.6" lengthAdjust="spacingAndGlyphs">02 Apr 2025</text>
<rect x="428.99" y="1223.44" width="11.45" height="13.56" fill="#845ec2"/>
<rect x="428.99" y="1091.61" width="11.45" height="131.83" fill="#ff9671"/>
<rect x="428.99" y="1085.1" width="11.45" height="6.51" fill="#d5f56c"/>
<text x="434.21" y="1244" font-size="3.7" fill="#222" text-anchor="end" font-weight="bold" transform="rotate(-59.5 434.21 1244)" textLength="21.6" lengthAdjust="spacingAndGlyphs">03 Apr 2025</text>
<rect x="443.3" y="1226.15" width="11.45" height="10.85" fill="#845ec2"/>
<rect x="443.3" y="1098.55" width="11.45" height="127.6" fill="#ff9671"/>
<rect x="443.3" y="1094.54" width="11.45" height="4.01" fill="#d5f56c"/>
<text x="448.53" y="1244" font-size="3.7" fill="#222" text-anchor="end" font-weight="bold" transform="rotate(-59.5 448.53 1244)" textLength="21.6" lengthAdjust="spacingAndGlyphs">04 Apr 2025</text>
<rect x="457.62" y="1228.54" width="11.45" height="8.46" fill="#845ec2"/>
<rect x="457.62" y="1195.99" width="11.45" height="32.55" fill="#ff9671"/>
<rect x="457.62" y="1193.06" width="11.45" height="2.93" fill="#d5f56c"/>
<text x="462.84" y="1244" font-size="3.7" fill="#222" text-anchor="end" font-weight="bold" transform="rotate(-59.5 462.84 1244)" textLength="21.6" lengthAdjust="spacingAndGlyphs">05 Apr 2025</text>
<rect x="471.93" y="1234.5" width="11.45" height="2.5" fill="#845ec2"/>
<rect x="471.93" y="1214.54" width="11.45" height="19.96" fill="#ff9671"/>
<rect x="471.93" y="1214" width="11.45" height="0.54" fill="#d5f56c"/>
<text x="477.16" y="1244" font-size="3.7" fill="#222" text-anchor="end" font-weight="bold" transform="rotate(-59.5 477.16 1244)" textLength="21.6" lengthAdjust="spacingAndGlyphs">06 Apr 2025</text>
<rect x="486.25" y="1229.51" width="11.45" height="7.49" fill="#845ec2"/>
<rect x="486.25" y="1125.03" width="11.45" height="104.49" fill="#ff9671"/>
<rect x="486.25" y="1121.99" width="11.45" height="3.04" fill="#d5f56c"/>
<text x="491.48" y="1244" font-size="3.7" fill="#222" text-anchor="end" font-weight="bold" transform="rotate(-59.5 491.48 1244)" textLength="21.6" lengthAdjust="spacingAndGlyphs">07 Apr 2025</text>
<rect x="500.57" y="1223.55" width="11.45" height="13.45" fill="#845ec2"/>
<rect x="500.57" y="1103" width="11.45" height="120.54" fill="#ff9671"/>
<rect x="500.57" y="1098.01" width="11.45" height="4.99" fill="#d5f56c"/>
<text x="505.79" y="1244" font-size="3.7" fill="#222" text-anchor="end" font-weight="bold" transform="rotate(-59.5 505.79 1244)" textLength="21.6" lengthAdjust="spacingAndGlyphs">08 Apr 2025</text>
<rect x="514.88" y="1227.99" width="11.45" height="9.01" fill="#845ec2"/>
<rect x="514.88" y="1110.06" width="11.45" height="117.94" fill="#ff9671"/>
<rect x="514.88" y="1105.5" width="11.45" height="4.56" fill="#d5f56c"/>
<text x="520.11" y="1244" font-size="3.7" fill="#222" text-anchor="end" font-weight="bold" transform="rotate(-59.5 520.11 1244)" textLength="21.6" lengthAdjust="spacingAndGlyphs">09 Apr 2025</text>
<rect x="529.2" y="1227.02" width="11.45" height="9.98" fill="#845ec2"/>
<rect x="529.2" y="1117.54" width="11.45" height="109.48" fill="#ff9671"/>
<rect x="529.2" y="1114.07" width="11.45" height="3.47" fill="#d5f56c"/>
<text x="534.43" y="1244" font-size="3.7" fill="#222" text-anchor="end" font-weight="bold" transform="rotate(-59.5 534.43 1244)" textLength="21.6" lengthAdjust="spacingAndGlyphs">10 Apr 2025</text>
<rect x="543.52" y="1228.54" width="11.45" height="8.46" fill="#845ec2"/>
<rect x="543.52" y="1125.57" width="11.45" height="102.97" fill="#ff9671"/>
<text x="548.74" y="1244" font-size="3.7" fill="#222" text-anchor="end" font-weight="bold" transform="rotate(-59.5 548.74 1244)" textLength="21.6" lengthAdjust="spacingAndGlyphs">11 Apr 2025</text>
<rect x="563.6" y="1162.6" width="5.2" height="5.2" rx="0.6" fill="#845ec2"/>
<text x="571" y="1166.5" font-size="3.4" fill="#222" font-weight="bold" textLength="11" lengthAdjust="spacingAndGlyphs">ติดบ้าน</text>
<rect x="563.6" y="1173.4" width="5.2" height="5.2" rx="0.6" fill="#ff9671"/>
<text x="571" y="1177.3" font-size="3.4" fill="#222" font-weight="bold" textLength="13.4" lengthAdjust="spacingAndGlyphs">ติดสังคม</text>
<rect x="563.6" y="1184.2" width="5.2" height="5.2" rx="0.6" fill="#d5f56c"/>
<text x="571" y="1188.1" font-size="3.4" fill="#222" font-weight="bold" textLength="12.2" lengthAdjust="spacingAndGlyphs">ติดเตียง</text>
<path d="M8.4 1269.9 h4 l3.2 -3 q1 -0.8 2 0 l2 2 q1 -1.2 2.4 0 l1.2 1 h4" fill="none" stroke="#dcdcdc" stroke-width="0.5"/>
<text x="13" y="1288.4" font-size="5" fill="#222" textLength="76" lengthAdjust="spacingAndGlyphs">สัดส่วนกิจกรรมมิติการดูแลผู้สูงอายุ</text>
<path d="M92.8 1286.1 h2.4 l-1.2 1.2 z" fill="#333"/>
<rect x="288" y="1295.6" width="5.2" height="5.2" rx="0.6" fill="#c9b8e8" stroke="#a68bd8" stroke-width="0.4"/>
<text x="296.3" y="1299.6" font-size="3.4" fill="#222" font-weight="bold" textLength="15" lengthAdjust="spacingAndGlyphs">จำนวนครั้ง</text>
<g fill="none" stroke="#e8e8e8" stroke-width="0.4"><circle cx="300.3" cy="1393.3" r="18.25"/><circle cx="300.3" cy="1393.3" r="36.5"/><circle cx="300.3" cy="1393.3" r="54.75"/><circle cx="300.3" cy="1393.3" r="73"/><path d="M300.3 1393.3 L300.3 1320.3"/><path d="M300.3 1393.3 L369.73 1370.74"/><path d="M300.3 1393.3 L343.21 1452.36"/><path d="M300.3 1393.3 L257.39 1452.36"/><path d="M300.3 1393.3 L230.87 1370.74"/></g>
<polygon points="300.3,1328.33 334.32,1382.25 306.52,1401.86 296.44,1398.62 293.18,1390.99" fill="#b9a3e3" fill-opacity="0.85" stroke="#8f72cf" stroke-width="0.5" stroke-linejoin="round"/>
<text x="305.8" y="1394.55" font-size="3.5" fill="#222" font-weight="bold">0</text>
<text x="305.8" y="1376.3" font-size="3.5" fill="#222" font-weight="bold">500</text>
<text x="305.8" y="1358.05" font-size="3.5" fill="#222" font-weight="bold">1,000</text>
<text x="305.8" y="1339.8" font-size="3.5" fill="#222" font-weight="bold">1,500</text>
<text x="305.8" y="1321.55" font-size="3.5" fill="#222" font-weight="bold">2,000</text>
<text x="294" y="1312.8" font-size="3.4" fill="#222" font-weight="bold" textLength="15.6" lengthAdjust="spacingAndGlyphs">มิติสุขภาพ</text>
<text x="378.4" y="1368.2" font-size="3.4" fill="#222" font-weight="bold" textLength="14.3" lengthAdjust="spacingAndGlyphs">มิติสังคม</text>
<text x="342.9" y="1458.3" font-size="3.4" fill="#222" font-weight="bold" textLength="18.9" lengthAdjust="spacingAndGlyphs">มิติเศรษฐกิจ</text>
<text x="233.2" y="1458.3" font-size="3.4" fill="#222" font-weight="bold" textLength="27.3" lengthAdjust="spacingAndGlyphs">มิติสภาพแวดล้อม</text>
<text x="206" y="1368.2" font-size="3.4" fill="#222" font-weight="bold" textLength="21.2" lengthAdjust="spacingAndGlyphs">มิติเทคโนโลยี</text>
<path d="M8.4 1484 h4 l3.2 -3 q1 -0.8 2 0 l2 2 q1 -1.2 2.4 0 l1.2 1 h4" fill="none" stroke="#dcdcdc" stroke-width="0.5"/>
<text x="13" y="1502.2" font-size="5" fill="#222" textLength="106" lengthAdjust="spacingAndGlyphs">จำนวนกิจกรรมการดูแลผู้สูงอายุรายวันในแต่ละมิติ</text>
<path d="M122.8 1499.9 h2.4 l-1.2 1.2 z" fill="#333"/>
<g stroke="#e9e9e9" stroke-width="0.4" fill="none"><path d="M24.2 1667.2 H591"/><path d="M24.2 1652.47 H591"/><path d="M24.2 1637.74 H591"/><path d="M24.2 1623.01 H591"/><path d="M24.2 1608.28 H591"/><path d="M24.2 1593.55 H591"/><path d="M24.2 1578.82 H591"/><path d="M24.2 1564.09 H591"/><path d="M24.2 1549.36 H591"/><path d="M24.2 1534.63 H591"/><path d="M24.2 1519.9 H591"/><path d="M24.2 1519.9 V1667.2"/><path d="M40.87 1519.9 V1667.2"/><path d="M57.54 1519.9 V1667.2"/><path d="M74.21 1519.9 V1667.2"/><path d="M90.88 1519.9 V1667.2"/><path d="M107.55 1519.9 V1667.2"/><path d="M124.22 1519.9 V1667.2"/><path d="M140.89 1519.9 V1667.2"/><path d="M157.56 1519.9 V1667.2"/><path d="M174.24 1519.9 V1667.2"/><path d="M190.91 1519.9 V1667.2"/><path d="M207.58 1519.9 V1667.2"/><path d="M224.25 1519.9 V1667.2"/><path d="M240.92 1519.9 V1667.2"/><path d="M257.59 1519.9 V1667.2"/><path d="M274.26 1519.9 V1667.2"/><path d="M290.93 1519.9 V1667.2"/><path d="M307.6 1519.9 V1667.2"/><path d="M324.27 1519.9 V1667.2"/><path d="M340.94 1519.9 V1667.2"/><path d="M357.61 1519.9 V1667.2"/><path d="M374.28 1519.9 V1667.2"/><path d="M390.95 1519.9 V1667.2"/><path d="M407.62 1519.9 V1667.2"/><path d="M424.29 1519.9 V1667.2"/><path d="M440.96 1519.9 V1667.2"/><path d="M457.64 1519.9 V1667.2"/><path d="M474.31 1519.9 V1667.2"/><path d="M490.98 1519.9 V1667.2"/><path d="M507.65 1519.9 V1667.2"/><path d="M524.32 1519.9 V1667.2"/><path d="M540.99 1519.9 V1667.2"/><path d="M557.66 1519.9 V1667.2"/><path d="M574.33 1519.9 V1667.2"/><path d="M591 1519.9 V1667.2"/></g>
<text x="21.4" y="1668.65" font-size="3.65" fill="#222" text-anchor="end" font-weight="bold">0</text>
<text x="21.4" y="1653.92" font-size="3.65" fill="#222" text-anchor="end" font-weight="bold">10</text>
<text x="21.4" y="1639.19" font-size="3.65" fill="#222" text-anchor="end" font-weight="bold">20</text>
<text x="21.4" y="1624.46" font-size="3.65" fill="#222" text-anchor="end" font-weight="bold">30</text>
<text x="21.4" y="1609.73" font-size="3.65" fill="#222" text-anchor="end" font-weight="bold">40</text>
<text x="21.4" y="1595" font-size="3.65" fill="#222" text-anchor="end" font-weight="bold">50</text>
<text x="21.4" y="1580.27" font-size="3.65" fill="#222" text-anchor="end" font-weight="bold">60</text>
<text x="21.4" y="1565.54" font-size="3.65" fill="#222" text-anchor="end" font-weight="bold">70</text>
<text x="21.4" y="1550.81" font-size="3.65" fill="#222" text-anchor="end" font-weight="bold">80</text>
<text x="21.4" y="1536.08" font-size="3.65" fill="#222" text-anchor="end" font-weight="bold">90</text>
<text x="21.4" y="1521.35" font-size="3.65" fill="#222" text-anchor="end" font-weight="bold">100</text>
<rect x="25.78" y="1634.79" width="13.5" height="32.41" fill="#845ec2"/>
<rect x="25.78" y="1623.01" width="13.5" height="11.78" fill="#ff6f91"/>
<rect x="25.78" y="1618.59" width="13.5" height="4.42" fill="#ffc75f"/>
<rect x="25.78" y="1614.17" width="13.5" height="4.42" fill="#d5f56c"/>
<rect x="25.78" y="1612.7" width="13.5" height="1.47" fill="#7af36c"/>
<text x="32.04" y="1674.2" font-size="3.7" fill="#222" text-anchor="end" font-weight="bold" transform="rotate(-59.5 32.04 1674.2)" textLength="21.6" lengthAdjust="spacingAndGlyphs">06 มี.ค. 2568</text>
<rect x="42.45" y="1627.43" width="13.5" height="39.77" fill="#845ec2"/>
<rect x="42.45" y="1618.59" width="13.5" height="8.84" fill="#ff6f91"/>
<rect x="42.45" y="1614.17" width="13.5" height="4.42" fill="#ffc75f"/>
<rect x="42.45" y="1611.23" width="13.5" height="2.95" fill="#d5f56c"/>
<rect x="42.45" y="1609.75" width="13.5" height="1.47" fill="#7af36c"/>
<text x="48.71" y="1674.2" font-size="3.7" fill="#222" text-anchor="end" font-weight="bold" transform="rotate(-59.5 48.71 1674.2)" textLength="21.6" lengthAdjust="spacingAndGlyphs">07 มี.ค. 2568</text>
<rect x="59.12" y="1658.36" width="13.5" height="8.84" fill="#845ec2"/>
<rect x="59.12" y="1628.9" width="13.5" height="29.46" fill="#ff6f91"/>
<rect x="59.12" y="1626.69" width="13.5" height="2.21" fill="#ffc75f"/>
<rect x="59.12" y="1623.75" width="13.5" height="2.95" fill="#d5f56c"/>
<rect x="59.12" y="1623.01" width="13.5" height="0.74" fill="#7af36c"/>
<text x="65.38" y="1674.2" font-size="3.7" fill="#222" text-anchor="end" font-weight="bold" transform="rotate(-59.5 65.38 1674.2)" textLength="21.6" lengthAdjust="spacingAndGlyphs">09 มี.ค. 2568</text>
<rect x="75.8" y="1651" width="13.5" height="16.2" fill="#845ec2"/>
<rect x="75.8" y="1648.05" width="13.5" height="2.95" fill="#ff6f91"/>
<rect x="75.8" y="1646.58" width="13.5" height="1.47" fill="#ffc75f"/>
<rect x="75.8" y="1642.16" width="13.5" height="4.42" fill="#d5f56c"/>
<text x="82.05" y="1674.2" font-size="3.7" fill="#222" text-anchor="end" font-weight="bold" transform="rotate(-59.5 82.05 1674.2)" textLength="21.6" lengthAdjust="spacingAndGlyphs">10 มี.ค. 2568</text>
<rect x="92.47" y="1642.16" width="13.5" height="25.04" fill="#845ec2"/>
<rect x="92.47" y="1620.06" width="13.5" height="22.1" fill="#ff6f91"/>
<rect x="92.47" y="1611.23" width="13.5" height="8.84" fill="#ffc75f"/>
<rect x="92.47" y="1600.91" width="13.5" height="10.31" fill="#d5f56c"/>
<rect x="92.47" y="1589.13" width="13.5" height="11.78" fill="#7af36c"/>
<text x="98.72" y="1674.2" font-size="3.7" fill="#222" text-anchor="end" font-weight="bold" transform="rotate(-59.5 98.72 1674.2)" textLength="21.6" lengthAdjust="spacingAndGlyphs">11 มี.ค. 2568</text>
<rect x="109.14" y="1633.32" width="13.5" height="33.88" fill="#845ec2"/>
<rect x="109.14" y="1620.06" width="13.5" height="13.26" fill="#ff6f91"/>
<rect x="109.14" y="1618.59" width="13.5" height="1.47" fill="#ffc75f"/>
<rect x="109.14" y="1617.12" width="13.5" height="1.47" fill="#d5f56c"/>
<rect x="109.14" y="1614.17" width="13.5" height="2.95" fill="#7af36c"/>
<text x="115.39" y="1674.2" font-size="3.7" fill="#222" text-anchor="end" font-weight="bold" transform="rotate(-59.5 115.39 1674.2)" textLength="21.6" lengthAdjust="spacingAndGlyphs">12 มี.ค. 2568</text>
<rect x="125.81" y="1628.9" width="13.5" height="38.3" fill="#845ec2"/>
<rect x="125.81" y="1615.64" width="13.5" height="13.26" fill="#ff6f91"/>
<rect x="125.81" y="1605.33" width="13.5" height="10.31" fill="#ffc75f"/>
<rect x="125.81" y="1597.97" width="13.5" height="7.37" fill="#d5f56c"/>
<rect x="125.81" y="1595.02" width="13.5" height="2.95" fill="#7af36c"/>
<text x="132.06" y="1674.2" font-size="3.7" fill="#222" text-anchor="end" font-weight="bold" transform="rotate(-59.5 132.06 1674.2)" textLength="21.6" lengthAdjust="spacingAndGlyphs">13 มี.ค. 2568</text>
<rect x="142.48" y="1621.54" width="13.5" height="45.66" fill="#845ec2"/>
<rect x="142.48" y="1608.28" width="13.5" height="13.26" fill="#ff6f91"/>
<rect x="142.48" y="1603.86" width="13.5" height="4.42" fill="#ffc75f"/>
<rect x="142.48" y="1602.39" width="13.5" height="1.47" fill="#d5f56c"/>
<rect x="142.48" y="1600.91" width="13.5" height="1.47" fill="#7af36c"/>
<text x="148.73" y="1674.2" font-size="3.7" fill="#222" text-anchor="end" font-weight="bold" transform="rotate(-59.5 148.73 1674.2)" textLength="21.6" lengthAdjust="spacingAndGlyphs">14 มี.ค. 2568</text>
<rect x="159.15" y="1659.84" width="13.5" height="7.37" fill="#845ec2"/>
<rect x="159.15" y="1652.47" width="13.5" height="7.37" fill="#ff6f91"/>
<rect x="159.15" y="1649.52" width="13.5" height="2.95" fill="#ffc75f"/>
<rect x="159.15" y="1645.11" width="13.5" height="4.42" fill="#d5f56c"/>
<rect x="159.15" y="1642.16" width="13.5" height="2.95" fill="#7af36c"/>
<text x="165.4" y="1674.2" font-size="3.7" fill="#222" text-anchor="end" font-weight="bold" transform="rotate(-59.5 165.4 1674.2)" textLength="21.6" lengthAdjust="spacingAndGlyphs">15 มี.ค. 2568</text>
<rect x="175.82" y="1665.73" width="13.5" height="1.47" fill="#845ec2"/>
<rect x="175.82" y="1664.25" width="13.5" height="1.47" fill="#ff6f91"/>
<text x="182.07" y="1674.2" font-size="3.7" fill="#222" text-anchor="end" font-weight="bold" transform="rotate(-59.5 182.07 1674.2)" textLength="21.6" lengthAdjust="spacingAndGlyphs">16 มี.ค. 2568</text>
<rect x="192.49" y="1639.21" width="13.5" height="27.99" fill="#845ec2"/>
<rect x="192.49" y="1621.54" width="13.5" height="17.68" fill="#ff6f91"/>
<rect x="192.49" y="1617.12" width="13.5" height="4.42" fill="#ffc75f"/>
<rect x="192.49" y="1611.23" width="13.5" height="5.89" fill="#d5f56c"/>
<rect x="192.49" y="1608.28" width="13.5" height="2.95" fill="#7af36c"/>
<text x="198.74" y="1674.2" font-size="3.7" fill="#222" text-anchor="end" font-weight="bold" transform="rotate(-59.5 198.74 1674.2)" textLength="21.6" lengthAdjust="spacingAndGlyphs">17 มี.ค. 2568</text>
<rect x="209.16" y="1653.94" width="13.5" height="13.26" fill="#845ec2"/>
<rect x="209.16" y="1645.11" width="13.5" height="8.84" fill="#ff6f91"/>
<text x="215.41" y="1674.2" font-size="3.7" fill="#222" text-anchor="end" font-weight="bold" transform="rotate(-59.5 215.41 1674.2)" textLength="21.6" lengthAdjust="spacingAndGlyphs">18 มี.ค. 2568</text>
<rect x="225.83" y="1643.63" width="13.5" height="23.57" fill="#845ec2"/>
<rect x="225.83" y="1631.85" width="13.5" height="11.78" fill="#ff6f91"/>
<rect x="225.83" y="1627.43" width="13.5" height="4.42" fill="#ffc75f"/>
<rect x="225.83" y="1624.48" width="13.5" height="2.95" fill="#d5f56c"/>
<rect x="225.83" y="1623.01" width="13.5" height="1.47" fill="#7af36c"/>
<text x="232.08" y="1674.2" font-size="3.7" fill="#222" text-anchor="end" font-weight="bold" transform="rotate(-59.5 232.08 1674.2)" textLength="21.6" lengthAdjust="spacingAndGlyphs">19 มี.ค. 2568</text>
<rect x="242.5" y="1656.89" width="13.5" height="10.31" fill="#845ec2"/>
<rect x="242.5" y="1651" width="13.5" height="5.89" fill="#ff6f91"/>
<text x="248.75" y="1674.2" font-size="3.7" fill="#222" text-anchor="end" font-weight="bold" transform="rotate(-59.5 248.75 1674.2)" textLength="21.6" lengthAdjust="spacingAndGlyphs">20 มี.ค. 2568</text>
<rect x="259.17" y="1637.74" width="13.5" height="29.46" fill="#845ec2"/>
<rect x="259.17" y="1624.48" width="13.5" height="13.26" fill="#ff6f91"/>
<rect x="259.17" y="1620.06" width="13.5" height="4.42" fill="#ffc75f"/>
<rect x="259.17" y="1612.7" width="13.5" height="7.37" fill="#d5f56c"/>
<rect x="259.17" y="1611.23" width="13.5" height="1.47" fill="#7af36c"/>
<text x="265.42" y="1674.2" font-size="3.7" fill="#222" text-anchor="end" font-weight="bold" transform="rotate(-59.5 265.42 1674.2)" textLength="21.6" lengthAdjust="spacingAndGlyphs">21 มี.ค. 2568</text>
<rect x="275.84" y="1658.36" width="13.5" height="8.84" fill="#845ec2"/>
<rect x="275.84" y="1648.05" width="13.5" height="10.31" fill="#ff6f91"/>
<rect x="275.84" y="1645.11" width="13.5" height="2.95" fill="#ffc75f"/>
<rect x="275.84" y="1642.16" width="13.5" height="2.95" fill="#d5f56c"/>
<rect x="275.84" y="1639.21" width="13.5" height="2.95" fill="#7af36c"/>
<text x="282.09" y="1674.2" font-size="3.7" fill="#222" text-anchor="end" font-weight="bold" transform="rotate(-59.5 282.09 1674.2)" textLength="21.6" lengthAdjust="spacingAndGlyphs">22 มี.ค. 2568</text>
<rect x="292.51" y="1664.25" width="13.5" height="2.95" fill="#845ec2"/>
<rect x="292.51" y="1662.04" width="13.5" height="2.21" fill="#ff6f91"/>
<rect x="292.51" y="1659.84" width="13.5" height="2.21" fill="#ffc75f"/>
<text x="298.76" y="1674.2" font-size="3.7" fill="#222" text-anchor="end" font-weight="bold" transform="rotate(-59.5 298.76 1674.2)" textLength="21.6" lengthAdjust="spacingAndGlyphs">23 มี.ค. 2568</text>
<rect x="309.18" y="1642.16" width="13.5" height="25.04" fill="#845ec2"/>
<rect x="309.18" y="1627.43" width="13.5" height="14.73" fill="#ff6f91"/>
<rect x="309.18" y="1620.06" width="13.5" height="7.37" fill="#ffc75f"/>
<rect x="309.18" y="1606.81" width="13.5" height="13.26" fill="#d5f56c"/>
<rect x="309.18" y="1599.44" width="13.5" height="7.37" fill="#7af36c"/>
<text x="315.44" y="1674.2" font-size="3.7" fill="#222" text-anchor="end" font-weight="bold" transform="rotate(-59.5 315.44 1674.2)" textLength="21.6" lengthAdjust="spacingAndGlyphs">24 มี.ค. 2568</text>
<rect x="325.85" y="1640.69" width="13.5" height="26.51" fill="#845ec2"/>
<rect x="325.85" y="1633.32" width="13.5" height="7.37" fill="#ff6f91"/>
<rect x="325.85" y="1625.96" width="13.5" height="7.37" fill="#ffc75f"/>
<rect x="325.85" y="1620.06" width="13.5" height="5.89" fill="#d5f56c"/>
<rect x="325.85" y="1609.75" width="13.5" height="10.31" fill="#7af36c"/>
<text x="332.11" y="1674.2" font-size="3.7" fill="#222" text-anchor="end" font-weight="bold" transform="rotate(-59.5 332.11 1674.2)" textLength="21.6" lengthAdjust="spacingAndGlyphs">25 มี.ค. 2568</text>
<rect x="342.52" y="1645.11" width="13.5" height="22.1" fill="#845ec2"/>
<rect x="342.52" y="1628.9" width="13.5" height="16.2" fill="#ff6f91"/>
<rect x="342.52" y="1615.64" width="13.5" height="13.26" fill="#ffc75f"/>
<rect x="342.52" y="1600.91" width="13.5" height="14.73" fill="#d5f56c"/>
<rect x="342.52" y="1584.71" width="13.5" height="16.2" fill="#7af36c"/>
<text x="348.78" y="1674.2" font-size="3.7" fill="#222" text-anchor="end" font-weight="bold" transform="rotate(-59.5 348.78 1674.2)" textLength="21.6" lengthAdjust="spacingAndGlyphs">26 มี.ค. 2568</text>
<rect x="359.2" y="1612.7" width="13.5" height="54.5" fill="#845ec2"/>
<rect x="359.2" y="1577.35" width="13.5" height="35.35" fill="#ff6f91"/>
<rect x="359.2" y="1559.67" width="13.5" height="17.68" fill="#ffc75f"/>
<rect x="359.2" y="1543.47" width="13.5" height="16.2" fill="#d5f56c"/>
<rect x="359.2" y="1527.27" width="13.5" height="16.2" fill="#7af36c"/>
<text x="365.45" y="1674.2" font-size="3.7" fill="#222" text-anchor="end" font-weight="bold" transform="rotate(-59.5 365.45 1674.2)" textLength="21.6" lengthAdjust="spacingAndGlyphs">27 มี.ค. 2568</text>
<rect x="375.87" y="1648.05" width="13.5" height="19.15" fill="#845ec2"/>
<rect x="375.87" y="1640.69" width="13.5" height="7.37" fill="#ff6f91"/>
<rect x="375.87" y="1633.32" width="13.5" height="7.37" fill="#ffc75f"/>
<rect x="375.87" y="1628.9" width="13.5" height="4.42" fill="#d5f56c"/>
<rect x="375.87" y="1624.48" width="13.5" height="4.42" fill="#7af36c"/>
<text x="382.12" y="1674.2" font-size="3.7" fill="#222" text-anchor="end" font-weight="bold" transform="rotate(-59.5 382.12 1674.2)" textLength="21.6" lengthAdjust="spacingAndGlyphs">28 มี.ค. 2568</text>
<rect x="392.54" y="1664.25" width="13.5" height="2.95" fill="#845ec2"/>
<rect x="392.54" y="1662.04" width="13.5" height="2.21" fill="#ff6f91"/>
<rect x="392.54" y="1659.1" width="13.5" height="2.95" fill="#ffc75f"/>
<rect x="392.54" y="1653.94" width="13.5" height="5.16" fill="#d5f56c"/>
<text x="398.79" y="1674.2" font-size="3.7" fill="#222" text-anchor="end" font-weight="bold" transform="rotate(-59.5 398.79 1674.2)" textLength="21.6" lengthAdjust="spacingAndGlyphs">31 มี.ค. 2568</text>
<rect x="409.21" y="1646.58" width="13.5" height="20.62" fill="#845ec2"/>
<rect x="409.21" y="1621.54" width="13.5" height="25.04" fill="#ff6f91"/>
<rect x="409.21" y="1620.8" width="13.5" height="0.74" fill="#ffc75f"/>
<rect x="409.21" y="1619.33" width="13.5" height="1.47" fill="#d5f56c"/>
<rect x="409.21" y="1617.12" width="13.5" height="2.21" fill="#7af36c"/>
<text x="415.46" y="1674.2" font-size="3.7" fill="#222" text-anchor="end" font-weight="bold" transform="rotate(-59.5 415.46 1674.2)" textLength="21.6" lengthAdjust="spacingAndGlyphs">01 เม.ย. 2568</text>
<rect x="425.88" y="1649.52" width="13.5" height="17.68" fill="#845ec2"/>
<rect x="425.88" y="1637.74" width="13.5" height="11.78" fill="#ff6f91"/>
<rect x="425.88" y="1633.32" width="13.5" height="4.42" fill="#ffc75f"/>
<rect x="425.88" y="1629.64" width="13.5" height="3.68" fill="#d5f56c"/>
<rect x="425.88" y="1626.69" width="13.5" height="2.95" fill="#7af36c"/>
<text x="432.13" y="1674.2" font-size="3.7" fill="#222" text-anchor="end" font-weight="bold" transform="rotate(-59.5 432.13 1674.2)" textLength="21.6" lengthAdjust="spacingAndGlyphs">02 เม.ย. 2568</text>
<rect x="442.55" y="1615.64" width="13.5" height="51.55" fill="#845ec2"/>
<rect x="442.55" y="1595.02" width="13.5" height="20.62" fill="#ff6f91"/>
<rect x="442.55" y="1586.18" width="13.5" height="8.84" fill="#ffc75f"/>
<rect x="442.55" y="1578.82" width="13.5" height="7.37" fill="#d5f56c"/>
<rect x="442.55" y="1565.56" width="13.5" height="13.26" fill="#7af36c"/>
<text x="448.8" y="1674.2" font-size="3.7" fill="#222" text-anchor="end" font-weight="bold" transform="rotate(-59.5 448.8 1674.2)" textLength="21.6" lengthAdjust="spacingAndGlyphs">03 เม.ย. 2568</text>
<rect x="459.22" y="1642.16" width="13.5" height="25.04" fill="#845ec2"/>
<rect x="459.22" y="1617.12" width="13.5" height="25.04" fill="#ff6f91"/>
<rect x="459.22" y="1606.81" width="13.5" height="10.31" fill="#ffc75f"/>
<rect x="459.22" y="1597.97" width="13.5" height="8.84" fill="#d5f56c"/>
<rect x="459.22" y="1589.13" width="13.5" height="8.84" fill="#7af36c"/>
<text x="465.47" y="1674.2" font-size="3.7" fill="#222" text-anchor="end" font-weight="bold" transform="rotate(-59.5 465.47 1674.2)" textLength="21.6" lengthAdjust="spacingAndGlyphs">04 เม.ย. 2568</text>
<rect x="475.89" y="1642.16" width="13.5" height="25.04" fill="#845ec2"/>
<rect x="475.89" y="1627.43" width="13.5" height="14.73" fill="#ff6f91"/>
<rect x="475.89" y="1618.59" width="13.5" height="8.84" fill="#ffc75f"/>
<rect x="475.89" y="1612.7" width="13.5" height="5.89" fill="#d5f56c"/>
<rect x="475.89" y="1602.39" width="13.5" height="10.31" fill="#7af36c"/>
<text x="482.14" y="1674.2" font-size="3.7" fill="#222" text-anchor="end" font-weight="bold" transform="rotate(-59.5 482.14 1674.2)" textLength="21.6" lengthAdjust="spacingAndGlyphs">05 เม.ย. 2568</text>
<rect x="492.56" y="1643.63" width="13.5" height="23.57" fill="#845ec2"/>
<rect x="492.56" y="1637" width="13.5" height="6.63" fill="#ff6f91"/>
<rect x="492.56" y="1631.11" width="13.5" height="5.89" fill="#ffc75f"/>
<rect x="492.56" y="1625.22" width="13.5" height="5.89" fill="#d5f56c"/>
<rect x="492.56" y="1618.59" width="13.5" height="6.63" fill="#7af36c"/>
<text x="498.81" y="1674.2" font-size="3.7" fill="#222" text-anchor="end" font-weight="bold" transform="rotate(-59.5 498.81 1674.2)" textLength="21.6" lengthAdjust="spacingAndGlyphs">06 เม.ย. 2568</text>
<rect x="509.23" y="1643.63" width="13.5" height="23.57" fill="#845ec2"/>
<rect x="509.23" y="1642.16" width="13.5" height="1.47" fill="#ff6f91"/>
<rect x="509.23" y="1633.32" width="13.5" height="8.84" fill="#7af36c"/>
<text x="515.48" y="1674.2" font-size="3.7" fill="#222" text-anchor="end" font-weight="bold" transform="rotate(-59.5 515.48 1674.2)" textLength="21.6" lengthAdjust="spacingAndGlyphs">07 เม.ย. 2568</text>
<rect x="525.9" y="1620.06" width="13.5" height="47.14" fill="#845ec2"/>
<rect x="525.9" y="1605.33" width="13.5" height="14.73" fill="#ff6f91"/>
<rect x="525.9" y="1599.44" width="13.5" height="5.89" fill="#ffc75f"/>
<rect x="525.9" y="1592.08" width="13.5" height="7.37" fill="#d5f56c"/>
<rect x="525.9" y="1580.29" width="13.5" height="11.78" fill="#7af36c"/>
<text x="532.15" y="1674.2" font-size="3.7" fill="#222" text-anchor="end" font-weight="bold" transform="rotate(-59.5 532.15 1674.2)" textLength="21.6" lengthAdjust="spacingAndGlyphs">08 เม.ย. 2568</text>
<rect x="542.57" y="1584.71" width="13.5" height="82.49" fill="#845ec2"/>
<rect x="542.57" y="1564.83" width="13.5" height="19.89" fill="#ff6f91"/>
<rect x="542.57" y="1547.15" width="13.5" height="17.68" fill="#ffc75f"/>
<rect x="542.57" y="1540.52" width="13.5" height="6.63" fill="#d5f56c"/>
<rect x="542.57" y="1524.32" width="13.5" height="16.2" fill="#7af36c"/>
<text x="548.82" y="1674.2" font-size="3.7" fill="#222" text-anchor="end" font-weight="bold" transform="rotate(-59.5 548.82 1674.2)" textLength="21.6" lengthAdjust="spacingAndGlyphs">09 เม.ย. 2568</text>
<rect x="559.24" y="1649.52" width="13.5" height="17.68" fill="#845ec2"/>
<rect x="559.24" y="1643.63" width="13.5" height="5.89" fill="#ff6f91"/>
<rect x="559.24" y="1637.74" width="13.5" height="5.89" fill="#ffc75f"/>
<rect x="559.24" y="1637.3" width="13.5" height="0.44" fill="#d5f56c"/>
<rect x="559.24" y="1634.06" width="13.5" height="3.24" fill="#7af36c"/>
<text x="565.49" y="1674.2" font-size="3.7" fill="#222" text-anchor="end" font-weight="bold" transform="rotate(-59.5 565.49 1674.2)" textLength="21.6" lengthAdjust="spacingAndGlyphs">10 เม.ย. 2568</text>
<rect x="575.91" y="1611.23" width="13.5" height="55.97" fill="#845ec2"/>
<rect x="575.91" y="1603.86" width="13.5" height="7.37" fill="#ff6f91"/>
<rect x="575.91" y="1586.18" width="13.5" height="17.68" fill="#ffc75f"/>
<rect x="575.91" y="1580.29" width="13.5" height="5.89" fill="#d5f56c"/>
<text x="582.16" y="1674.2" font-size="3.7" fill="#222" text-anchor="end" font-weight="bold" transform="rotate(-59.5 582.16 1674.2)" textLength="21.6" lengthAdjust="spacingAndGlyphs">11 เม.ย. 2568</text>
<rect x="216.4" y="1509.6" width="5.2" height="5.2" rx="0.6" fill="#845ec2"/>
<text x="223.8" y="1513.5" font-size="3.4" fill="#222" font-weight="bold" textLength="15.7" lengthAdjust="spacingAndGlyphs">มิติสุขภาพ</text>
<rect x="248.6" y="1509.6" width="5.2" height="5.2" rx="0.6" fill="#ff6f91"/>
<text x="255.9" y="1513.5" font-size="3.4" fill="#222" font-weight="bold" textLength="13.5" lengthAdjust="spacingAndGlyphs">มิติสังคม</text>
<rect x="277.5" y="1509.6" width="5.2" height="5.2" rx="0.6" fill="#ffc75f"/>
<text x="284.8" y="1513.5" font-size="3.4" fill="#222" font-weight="bold" textLength="19.4" lengthAdjust="spacingAndGlyphs">มิติเศรษฐกิจ</text>
<rect x="311.5" y="1509.6" width="5.2" height="5.2" rx="0.6" fill="#d5f56c"/>
<text x="318.8" y="1513.5" font-size="3.4" fill="#222" font-weight="bold" textLength="27.4" lengthAdjust="spacingAndGlyphs">มิติสภาพแวดล้อม</text>
<rect x="355.3" y="1509.6" width="5.2" height="5.2" rx="0.6" fill="#7af36c"/>
<text x="362.6" y="1513.5" font-size="3.4" fill="#222" font-weight="bold" textLength="21.2" lengthAdjust="spacingAndGlyphs">มิติเทคโนโลยี</text>
<path d="M8.4 1698.3 h4 l3.2 -3 q1 -0.8 2 0 l2 2 q1 -1.2 2.4 0 l1.2 1 h4" fill="none" stroke="#dcdcdc" stroke-width="0.5"/>
<text x="13" y="1716.9" font-size="5" fill="#222" textLength="94.2" lengthAdjust="spacingAndGlyphs">แนวโน้มความเปลี่ยนแปลงของผู้สูงอายุตามมิติ</text>
<path d="M111 1714.6 h2.4 l-1.2 1.2 z" fill="#333"/>
<g stroke="#e9e9e9" stroke-width="0.4" fill="none"><path d="M26.7 1900.5 H591"/><path d="M26.7 1876.74 H591"/><path d="M26.7 1852.99 H591"/><path d="M26.7 1829.23 H591"/><path d="M26.7 1805.47 H591"/><path d="M26.7 1781.71 H591"/><path d="M26.7 1757.96 H591"/><path d="M26.7 1734.2 H591"/><path d="M26.7 1734.2 V1900.5"/><path d="M139.56 1734.2 V1900.5"/><path d="M252.42 1734.2 V1900.5"/><path d="M365.28 1734.2 V1900.5"/><path d="M478.14 1734.2 V1900.5"/><path d="M591 1734.2 V1900.5"/></g>
<text x="23" y="1901.95" font-size="3.65" fill="#222" text-anchor="end" font-weight="bold">0</text>
<text x="23" y="1878.19" font-size="3.65" fill="#222" text-anchor="end" font-weight="bold">500</text>
<text x="23" y="1854.44" font-size="3.65" fill="#222" text-anchor="end" font-weight="bold">1,000</text>
<text x="23" y="1830.68" font-size="3.65" fill="#222" text-anchor="end" font-weight="bold">1,500</text>
<text x="23" y="1806.92" font-size="3.65" fill="#222" text-anchor="end" font-weight="bold">2,000</text>
<text x="23" y="1783.16" font-size="3.65" fill="#222" text-anchor="end" font-weight="bold">2,500</text>
<text x="23" y="1759.41" font-size="3.65" fill="#222" text-anchor="end" font-weight="bold">3,000</text>
<text x="23" y="1735.65" font-size="3.65" fill="#222" text-anchor="end" font-weight="bold">3,500</text>
<rect x="37.99" y="1838.21" width="90.29" height="62.29" fill="#845ec2"/>
<rect x="37.99" y="1772.78" width="90.29" height="65.43" fill="#ff9671"/>
<rect x="37.99" y="1736.58" width="90.29" height="36.21" fill="#d5f56c"/>
<text x="83.13" y="1907.2" font-size="3.4" fill="#222" text-anchor="middle" font-weight="bold" textLength="16.4" lengthAdjust="spacingAndGlyphs">มิติสุขภาพ</text>
<rect x="150.85" y="1890.52" width="90.29" height="9.98" fill="#845ec2"/>
<rect x="150.85" y="1879.02" width="90.29" height="11.5" fill="#ff9671"/>
<rect x="150.85" y="1861.54" width="90.29" height="17.49" fill="#d5f56c"/>
<text x="195.99" y="1907.2" font-size="3.4" fill="#222" text-anchor="middle" font-weight="bold" textLength="13.8" lengthAdjust="spacingAndGlyphs">มิติสังคม</text>
<rect x="263.71" y="1890.52" width="90.29" height="9.98" fill="#845ec2"/>
<rect x="263.71" y="1879.02" width="90.29" height="11.5" fill="#ff9671"/>
<rect x="263.71" y="1861.54" width="90.29" height="17.49" fill="#d5f56c"/>
<text x="308.85" y="1907.2" font-size="3.4" fill="#222" text-anchor="middle" font-weight="bold" textLength="18" lengthAdjust="spacingAndGlyphs">มิติเศรษฐกิจ</text>
<rect x="376.57" y="1893.99" width="90.29" height="6.51" fill="#845ec2"/>
<rect x="376.57" y="1879.02" width="90.29" height="14.97" fill="#ff9671"/>
<rect x="376.57" y="1870.52" width="90.29" height="8.51" fill="#d5f56c"/>
<text x="421.71" y="1907.2" font-size="3.4" fill="#222" text-anchor="middle" font-weight="bold" textLength="27.6" lengthAdjust="spacingAndGlyphs">มิติสภาพแวดล้อม</text>
<rect x="489.43" y="1893.52" width="90.29" height="6.98" fill="#845ec2"/>
<rect x="489.43" y="1876.98" width="90.29" height="16.53" fill="#ff9671"/>
<rect x="489.43" y="1864.01" width="90.29" height="12.97" fill="#d5f56c"/>
<text x="534.57" y="1907.2" font-size="3.4" fill="#222" text-anchor="middle" font-weight="bold" textLength="21" lengthAdjust="spacingAndGlyphs">มิติเทคโนโลยี</text>
<rect x="269.2" y="1723.4" width="5.2" height="5.2" rx="0.6" fill="#845ec2"/>
<text x="276.6" y="1727.3" font-size="3.4" fill="#222" font-weight="bold" textLength="8.3" lengthAdjust="spacingAndGlyphs">แย่ลง</text>
<rect x="294.1" y="1723.4" width="5.2" height="5.2" rx="0.6" fill="#ff9671"/>
<text x="301" y="1727.3" font-size="3.4" fill="#222" font-weight="bold" textLength="6.3" lengthAdjust="spacingAndGlyphs">คงที่</text>
<rect x="316.4" y="1723.4" width="5.2" height="5.2" rx="0.6" fill="#d5f56c"/>
<text x="323.6" y="1727.3" font-size="3.4" fill="#222" font-weight="bold" textLength="7.3" lengthAdjust="spacingAndGlyphs">ดีขึ้น</text>
<path d="M8.4 1911.3 h4 l3.2 -3 q1 -0.8 2 0 l2 2 q1 -1.2 2.4 0 l1.2 1 h4" fill="none" stroke="#dcdcdc" stroke-width="0.5"/>
</svg></body></html>
